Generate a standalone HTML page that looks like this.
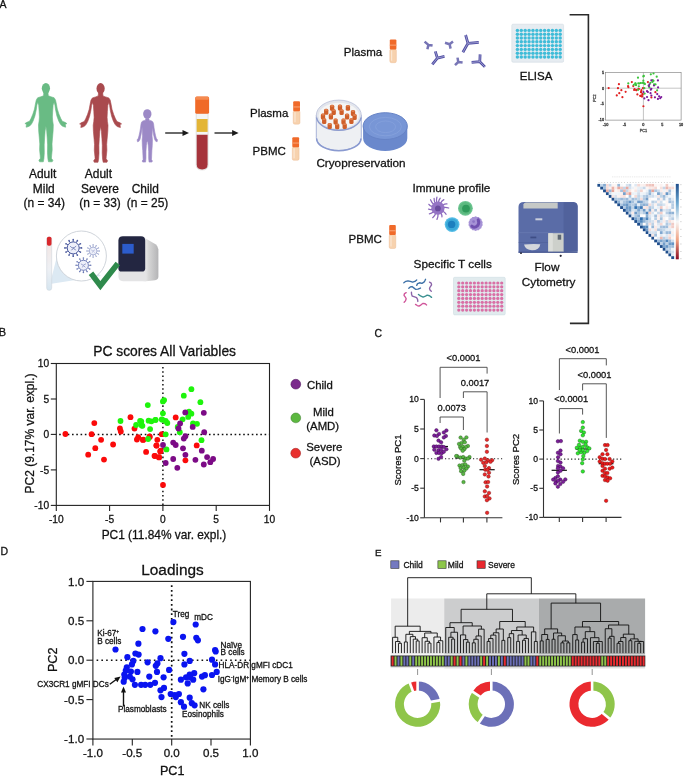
<!DOCTYPE html><html><head><meta charset="utf-8"><style>html,body{margin:0;padding:0;background:#fff;overflow:hidden} svg{display:block;will-change:transform} text{font-family:"Liberation Sans", sans-serif;stroke:currentColor;stroke-width:0.28px;paint-order:stroke}</style></head><body>
<svg width="685" height="777" viewBox="0 0 685 777">
<rect width="685" height="777" fill="#fff"/>
<text x="-0.4" y="7.6" font-size="10.5" text-anchor="start" fill="#111" color="#111" >A</text>
<path d="M48.00,92.95 L48.30,95.74 L50.90,96.73 L54.10,97.73 L55.50,99.92 L56.40,104.09 L57.30,109.07 L58.90,114.05 L60.80,118.52 L62.30,121.31 L65.00,122.30 L66.90,123.60 L65.30,124.19 L65.70,127.18 L63.90,126.78 L62.10,125.98 L60.30,124.00 L58.70,121.01 L56.90,116.03 L55.60,110.06 L54.90,105.09 L54.10,102.30 L53.10,105.09 L52.70,111.06 L52.40,117.03 L52.70,121.01 L53.30,124.99 L53.10,130.96 L52.40,138.92 L52.00,143.90 L52.20,149.87 L51.60,155.84 L51.40,158.32 L52.90,160.31 L52.20,161.81 L48.50,161.81 L47.90,158.82 L47.50,152.85 L47.60,144.89 L47.20,137.93 L46.70,130.96 L45.90,126.18 L45.90,126.18 L45.10,130.96 L44.60,137.93 L44.20,144.89 L44.30,152.85 L43.90,158.82 L43.30,161.81 L39.60,161.81 L38.90,160.31 L40.40,158.32 L40.20,155.84 L39.60,149.87 L39.80,143.90 L39.40,138.92 L38.70,130.96 L38.50,124.99 L39.10,121.01 L39.40,117.03 L39.10,111.06 L38.70,105.09 L37.70,102.30 L36.90,105.09 L36.20,110.06 L34.90,116.03 L33.10,121.01 L31.50,124.00 L29.70,125.98 L27.90,126.78 L26.10,127.18 L26.50,124.19 L24.90,123.60 L26.80,122.30 L29.50,121.31 L31.00,118.52 L32.90,114.05 L34.50,109.07 L35.40,104.09 L36.30,99.92 L37.70,97.73 L40.90,96.73 L43.50,95.74 L43.80,92.95Z" fill="#69bb84" stroke="#69bb84" stroke-width="0.6" stroke-linejoin="round"/>
<ellipse cx="45.90" cy="88.37" rx="4.10" ry="5.37" fill="#69bb84"/>
<path d="M102.70,93.10 L103.00,95.90 L105.60,96.90 L108.80,97.90 L110.20,100.10 L111.10,104.30 L112.00,109.30 L113.60,114.30 L115.50,118.80 L117.00,121.60 L119.70,122.60 L121.60,123.90 L120.00,124.50 L120.40,127.50 L118.60,127.10 L116.80,126.30 L115.00,124.30 L113.40,121.30 L111.60,116.30 L110.30,110.30 L109.60,105.30 L108.80,102.50 L107.80,105.30 L107.40,111.30 L107.10,117.30 L107.40,121.30 L108.00,125.30 L107.80,131.30 L107.10,139.30 L106.70,144.30 L106.90,150.30 L106.30,156.30 L106.10,158.80 L107.60,160.80 L106.90,162.30 L103.20,162.30 L102.60,159.30 L102.20,153.30 L102.30,145.30 L101.90,138.30 L101.40,131.30 L100.60,126.50 L100.60,126.50 L99.80,131.30 L99.30,138.30 L98.90,145.30 L99.00,153.30 L98.60,159.30 L98.00,162.30 L94.30,162.30 L93.60,160.80 L95.10,158.80 L94.90,156.30 L94.30,150.30 L94.50,144.30 L94.10,139.30 L93.40,131.30 L93.20,125.30 L93.80,121.30 L94.10,117.30 L93.80,111.30 L93.40,105.30 L92.40,102.50 L91.60,105.30 L90.90,110.30 L89.60,116.30 L87.80,121.30 L86.20,124.30 L84.40,126.30 L82.60,127.10 L80.80,127.50 L81.20,124.50 L79.60,123.90 L81.50,122.60 L84.20,121.60 L85.70,118.80 L87.60,114.30 L89.20,109.30 L90.10,104.30 L91.00,100.10 L92.40,97.90 L95.60,96.90 L98.20,95.90 L98.50,93.10Z" fill="#a94a4e" stroke="#a94a4e" stroke-width="0.6" stroke-linejoin="round"/>
<ellipse cx="100.60" cy="88.50" rx="4.10" ry="5.40" fill="#a94a4e"/>
<path d="M148.85,118.56 L149.05,120.13 L151.67,120.92 L152.93,121.91 L153.61,124.08 L154.09,128.01 L154.77,131.95 L155.64,135.89 L156.32,138.36 L157.49,139.84 L157.10,141.81 L155.74,141.31 L154.58,139.34 L153.61,134.91 L152.83,129.98 L152.44,127.03 L152.25,131.95 L152.05,135.89 L152.44,139.84 L152.25,145.75 L151.86,150.67 L151.67,155.59 L151.47,159.53 L152.44,161.01 L151.86,162.10 L149.05,162.10 L148.66,158.55 L148.66,151.66 L148.27,145.75 L147.79,142.30 L147.30,141.31 L147.30,141.31 L146.81,142.30 L146.33,145.75 L145.94,151.66 L145.94,158.55 L145.55,162.10 L142.74,162.10 L142.16,161.01 L143.13,159.53 L142.94,155.59 L142.74,150.67 L142.35,145.75 L142.16,139.84 L142.55,135.89 L142.35,131.95 L142.16,127.03 L141.77,129.98 L141.00,134.91 L140.03,139.34 L138.86,141.31 L137.50,141.81 L137.12,139.84 L138.28,138.36 L138.96,135.89 L139.83,131.95 L140.51,128.01 L141.00,124.08 L141.67,121.91 L142.94,120.92 L145.55,120.13 L145.75,118.56Z" fill="#9c89c6" stroke="#9c89c6" stroke-width="0.6" stroke-linejoin="round"/>
<ellipse cx="147.30" cy="114.03" rx="4.17" ry="4.83" fill="#9c89c6"/>
<text x="42.6" y="178.2" font-size="11.95" text-anchor="middle" fill="#111" color="#111" >Adult</text>
<text x="43.8" y="192.6" font-size="11.95" text-anchor="middle" fill="#111" color="#111" >Mild</text>
<text x="44.3" y="207.0" font-size="11.95" text-anchor="middle" fill="#111" color="#111" >(n = 34)</text>
<text x="98.4" y="178.2" font-size="11.95" text-anchor="middle" fill="#111" color="#111" >Adult</text>
<text x="100.0" y="192.6" font-size="11.95" text-anchor="middle" fill="#111" color="#111" >Severe</text>
<text x="100.1" y="207.0" font-size="11.95" text-anchor="middle" fill="#111" color="#111" >(n = 33)</text>
<text x="145.3" y="192.6" font-size="11.95" text-anchor="middle" fill="#111" color="#111" >Child</text>
<text x="147.6" y="207.0" font-size="11.95" text-anchor="middle" fill="#111" color="#111" >(n = 25)</text>
<line x1="165.2" y1="133" x2="184.0" y2="133" stroke="#1a1a1a" stroke-width="1.3"/>
<path d="M182.5,129.9 L189.0,133 L182.5,136.1Z" fill="#1a1a1a"/>
<line x1="214.5" y1="133" x2="233.6" y2="133" stroke="#1a1a1a" stroke-width="1.3"/>
<path d="M232.1,129.9 L238.6,133 L232.1,136.1Z" fill="#1a1a1a"/>
<path d="M196.2,113.5 L208.1,113.5 L208.1,165 Q208.1,170 202.15,170 Q196.2,170 196.2,165Z" fill="#f4f4f4" stroke="#d0d0d0" stroke-width="0.6"/>
<rect x="196.7" y="119.0" width="10.9" height="12.9" fill="#e3b536"/>
<path d="M196.7,134.7 L207.6,134.7 L207.6,164.2 Q207.6,169.4 202.15,169.4 Q196.7,169.4 196.7,164.2Z" fill="#a6333b"/>
<rect x="195.2" y="96.4" width="13.9" height="17.4" rx="1.6" fill="#f06a28"/>
<rect x="195.6" y="96.8" width="13.1" height="3" rx="1" fill="#f58a50"/>
<text x="250.0" y="117.4" font-size="11.5" text-anchor="start" fill="#111" color="#111" >Plasma</text>
<rect x="293.2" y="110.7" width="6.8" height="13.5" rx="1.6" fill="#f7d2ae" stroke="#eab58c" stroke-width="0.4"/>
<rect x="293.2" y="101.2" width="6.8" height="10" rx="1" fill="#f06a2a"/>
<rect x="293.2" y="106.4" width="6.8" height="1.1" fill="#f8a070"/>
<rect x="294.4" y="112.2" width="1.2" height="10.0" fill="#fbe6d2"/>
<text x="252.6" y="154.8" font-size="11.5" text-anchor="start" fill="#111" color="#111" >PBMC</text>
<rect x="292.3" y="146.8" width="6.8" height="13.5" rx="1.6" fill="#f7d2ae" stroke="#eab58c" stroke-width="0.4"/>
<rect x="292.3" y="137.3" width="6.8" height="10" rx="1" fill="#f06a2a"/>
<rect x="292.3" y="142.5" width="6.8" height="1.1" fill="#f8a070"/>
<rect x="293.5" y="148.3" width="1.2" height="10.0" fill="#fbe6d2"/>
<path d="M316.3,115.3 L316.3,137.5 A22.5,12.9 0 0 0 361.3,137.5 L361.3,115.3Z" fill="#eef0f3" stroke="#8797cc" stroke-width="0.7"/>
<path d="M316.6,138.5 A22.2,12.2 0 0 0 361,138.5" fill="none" stroke="#8a9ad0" stroke-width="1.6"/>
<ellipse cx="338.8" cy="115.3" rx="22.5" ry="15.2" fill="#e2e5ec" stroke="#b0b8d4" stroke-width="0.7"/>
<ellipse cx="338.8" cy="115.6" rx="20.2" ry="12.8" fill="#f5f5f5"/>
<path d="M316.5,117.5 A22.4,14 0 0 0 361.1,117.5" fill="none" stroke="#8e9dcf" stroke-width="1.5"/>
<rect x="329.95" y="104.80" width="4.3" height="5.9" rx="1.5" fill="#cf5f2a"/>
<rect x="330.50" y="105.10" width="3.2" height="1.6" rx="0.8" fill="#e08050"/>
<rect x="337.85" y="104.60" width="4.3" height="5.9" rx="1.5" fill="#cf5f2a"/>
<rect x="338.40" y="104.90" width="3.2" height="1.6" rx="0.8" fill="#e08050"/>
<rect x="345.75" y="104.90" width="4.3" height="5.9" rx="1.5" fill="#cf5f2a"/>
<rect x="346.30" y="105.20" width="3.2" height="1.6" rx="0.8" fill="#e08050"/>
<rect x="324.05" y="108.80" width="4.3" height="5.9" rx="1.5" fill="#cf5f2a"/>
<rect x="324.60" y="109.10" width="3.2" height="1.6" rx="0.8" fill="#e08050"/>
<rect x="331.55" y="109.20" width="4.3" height="5.9" rx="1.5" fill="#cf5f2a"/>
<rect x="332.10" y="109.50" width="3.2" height="1.6" rx="0.8" fill="#e08050"/>
<rect x="339.45" y="109.20" width="4.3" height="5.9" rx="1.5" fill="#cf5f2a"/>
<rect x="340.00" y="109.50" width="3.2" height="1.6" rx="0.8" fill="#e08050"/>
<rect x="350.85" y="110.00" width="4.3" height="5.9" rx="1.5" fill="#cf5f2a"/>
<rect x="351.40" y="110.30" width="3.2" height="1.6" rx="0.8" fill="#e08050"/>
<rect x="320.85" y="113.50" width="4.3" height="5.9" rx="1.5" fill="#cf5f2a"/>
<rect x="321.40" y="113.80" width="3.2" height="1.6" rx="0.8" fill="#e08050"/>
<rect x="328.75" y="113.60" width="4.3" height="5.9" rx="1.5" fill="#cf5f2a"/>
<rect x="329.30" y="113.90" width="3.2" height="1.6" rx="0.8" fill="#e08050"/>
<rect x="344.95" y="113.60" width="4.3" height="5.9" rx="1.5" fill="#cf5f2a"/>
<rect x="345.50" y="113.90" width="3.2" height="1.6" rx="0.8" fill="#e08050"/>
<rect x="352.45" y="114.00" width="4.3" height="5.9" rx="1.5" fill="#cf5f2a"/>
<rect x="353.00" y="114.30" width="3.2" height="1.6" rx="0.8" fill="#e08050"/>
<rect x="322.05" y="118.20" width="4.3" height="5.9" rx="1.5" fill="#cf5f2a"/>
<rect x="322.60" y="118.50" width="3.2" height="1.6" rx="0.8" fill="#e08050"/>
<rect x="333.45" y="118.50" width="4.3" height="5.9" rx="1.5" fill="#cf5f2a"/>
<rect x="334.00" y="118.80" width="3.2" height="1.6" rx="0.8" fill="#e08050"/>
<rect x="341.35" y="118.50" width="4.3" height="5.9" rx="1.5" fill="#cf5f2a"/>
<rect x="341.90" y="118.80" width="3.2" height="1.6" rx="0.8" fill="#e08050"/>
<rect x="349.25" y="118.20" width="4.3" height="5.9" rx="1.5" fill="#cf5f2a"/>
<rect x="349.80" y="118.50" width="3.2" height="1.6" rx="0.8" fill="#e08050"/>
<rect x="327.55" y="123.00" width="4.3" height="5.9" rx="1.5" fill="#cf5f2a"/>
<rect x="328.10" y="123.30" width="3.2" height="1.6" rx="0.8" fill="#e08050"/>
<rect x="335.05" y="123.40" width="4.3" height="5.9" rx="1.5" fill="#cf5f2a"/>
<rect x="335.60" y="123.70" width="3.2" height="1.6" rx="0.8" fill="#e08050"/>
<rect x="342.55" y="123.20" width="4.3" height="5.9" rx="1.5" fill="#cf5f2a"/>
<rect x="343.10" y="123.50" width="3.2" height="1.6" rx="0.8" fill="#e08050"/>
<path d="M363.1,126.1 L363.1,138.3 A22.1,12.7 0 0 0 407.3,138.3 L407.3,126.1Z" fill="#6a88cc"/>
<ellipse cx="385.2" cy="126.1" rx="22.1" ry="13.4" fill="#7896d6" stroke="#6683c6" stroke-width="1.0"/>
<ellipse cx="385.4" cy="126.6" rx="16" ry="9.2" fill="none" stroke="#86a2dc" stroke-width="0.8"/>
<ellipse cx="385.6" cy="126.8" rx="10" ry="5.8" fill="none" stroke="#86a2dc" stroke-width="0.7"/>
<text x="316.4" y="167.1" font-size="11.72" text-anchor="start" fill="#111" color="#111" >Cryopreservation</text>
<text x="343.8" y="56.1" font-size="11.5" text-anchor="start" fill="#111" color="#111" >Plasma</text>
<rect x="389.8" y="48.9" width="6.6" height="13.8" rx="1.6" fill="#f7d2ae" stroke="#eab58c" stroke-width="0.4"/>
<rect x="389.8" y="39.4" width="6.6" height="10" rx="1" fill="#f06a2a"/>
<rect x="389.8" y="44.6" width="6.6" height="1.1" fill="#f8a070"/>
<rect x="391.0" y="50.4" width="1.2" height="10.3" fill="#fbe6d2"/>
<path d="M468.00,43.30 L462.90,52.20 M468.00,43.30 L465.60,35.00 M468.00,43.30 L478.80,42.40" stroke="#4f4da3" stroke-width="2.75" stroke-linecap="butt" fill="none"/>
<path d="M468.00,43.30 L462.90,52.20 M468.00,43.30 L465.60,35.00 M468.00,43.30 L478.80,42.40" stroke="#d8d8ee" stroke-width="0.55" fill="none"/>
<path d="M437.40,58.10 L432.30,64.40 M437.40,58.10 L435.30,51.30 M437.40,58.10 L444.50,56.40" stroke="#4f4da3" stroke-width="2.75" stroke-linecap="butt" fill="none"/>
<path d="M437.40,58.10 L432.30,64.40 M437.40,58.10 L435.30,51.30 M437.40,58.10 L444.50,56.40" stroke="#d8d8ee" stroke-width="0.55" fill="none"/>
<path d="M479.80,61.70 L484.90,66.90 M479.80,61.70 L480.10,54.40 M479.80,61.70 L471.60,62.40" stroke="#4f4da3" stroke-width="2.75" stroke-linecap="butt" fill="none"/>
<path d="M479.80,61.70 L484.90,66.90 M479.80,61.70 L480.10,54.40 M479.80,61.70 L471.60,62.40" stroke="#d8d8ee" stroke-width="0.55" fill="none"/>
<path d="M428.40,44.90 L427.40,49.20 M428.40,44.90 L424.60,41.60 M428.40,44.90 L432.60,45.60" stroke="#7573b4" stroke-width="2.5" stroke-linecap="butt" fill="none"/>
<path d="M449.60,44.20 L450.60,48.60 M449.60,44.20 L445.00,42.80 M449.60,44.20 L453.00,41.60" stroke="#7876b6" stroke-width="2.5" stroke-linecap="butt" fill="none"/>
<path d="M458.30,62.00 L455.00,65.20 M458.30,62.00 L457.50,57.60 M458.30,62.00 L462.60,62.60" stroke="#7876b6" stroke-width="2.5" stroke-linecap="butt" fill="none"/>
<rect x="511.8" y="24.2" width="51.8" height="38.0" rx="1.2" fill="#e6ecf1" stroke="#d2dbe3" stroke-width="0.6"/>
<circle cx="517.40" cy="30.40" r="1.72" fill="#3fbcd8"/>
<circle cx="521.29" cy="30.40" r="1.72" fill="#3fbcd8"/>
<circle cx="525.18" cy="30.40" r="1.72" fill="#3fbcd8"/>
<circle cx="529.07" cy="30.40" r="1.72" fill="#3fbcd8"/>
<circle cx="532.96" cy="30.40" r="1.72" fill="#3fbcd8"/>
<circle cx="536.85" cy="30.40" r="1.72" fill="#3fbcd8"/>
<circle cx="540.74" cy="30.40" r="1.72" fill="#3fbcd8"/>
<circle cx="544.63" cy="30.40" r="1.72" fill="#3fbcd8"/>
<circle cx="548.52" cy="30.40" r="1.72" fill="#3fbcd8"/>
<circle cx="552.41" cy="30.40" r="1.72" fill="#3fbcd8"/>
<circle cx="556.30" cy="30.40" r="1.72" fill="#3fbcd8"/>
<circle cx="560.19" cy="30.40" r="1.72" fill="#3fbcd8"/>
<circle cx="517.40" cy="34.20" r="1.72" fill="#3fbcd8"/>
<circle cx="521.29" cy="34.20" r="1.72" fill="#3fbcd8"/>
<circle cx="525.18" cy="34.20" r="1.72" fill="#3fbcd8"/>
<circle cx="529.07" cy="34.20" r="1.72" fill="#3fbcd8"/>
<circle cx="532.96" cy="34.20" r="1.72" fill="#3fbcd8"/>
<circle cx="536.85" cy="34.20" r="1.72" fill="#3fbcd8"/>
<circle cx="540.74" cy="34.20" r="1.72" fill="#3fbcd8"/>
<circle cx="544.63" cy="34.20" r="1.72" fill="#3fbcd8"/>
<circle cx="548.52" cy="34.20" r="1.72" fill="#3fbcd8"/>
<circle cx="552.41" cy="34.20" r="1.72" fill="#3fbcd8"/>
<circle cx="556.30" cy="34.20" r="1.72" fill="#3fbcd8"/>
<circle cx="560.19" cy="34.20" r="1.72" fill="#3fbcd8"/>
<circle cx="517.40" cy="38.00" r="1.72" fill="#3fbcd8"/>
<circle cx="521.29" cy="38.00" r="1.72" fill="#3fbcd8"/>
<circle cx="525.18" cy="38.00" r="1.72" fill="#3fbcd8"/>
<circle cx="529.07" cy="38.00" r="1.72" fill="#3fbcd8"/>
<circle cx="532.96" cy="38.00" r="1.72" fill="#3fbcd8"/>
<circle cx="536.85" cy="38.00" r="1.72" fill="#3fbcd8"/>
<circle cx="540.74" cy="38.00" r="1.72" fill="#3fbcd8"/>
<circle cx="544.63" cy="38.00" r="1.72" fill="#3fbcd8"/>
<circle cx="548.52" cy="38.00" r="1.72" fill="#3fbcd8"/>
<circle cx="552.41" cy="38.00" r="1.72" fill="#3fbcd8"/>
<circle cx="556.30" cy="38.00" r="1.72" fill="#3fbcd8"/>
<circle cx="560.19" cy="38.00" r="1.72" fill="#3fbcd8"/>
<circle cx="517.40" cy="41.80" r="1.72" fill="#3fbcd8"/>
<circle cx="521.29" cy="41.80" r="1.72" fill="#3fbcd8"/>
<circle cx="525.18" cy="41.80" r="1.72" fill="#3fbcd8"/>
<circle cx="529.07" cy="41.80" r="1.72" fill="#3fbcd8"/>
<circle cx="532.96" cy="41.80" r="1.72" fill="#3fbcd8"/>
<circle cx="536.85" cy="41.80" r="1.72" fill="#3fbcd8"/>
<circle cx="540.74" cy="41.80" r="1.72" fill="#3fbcd8"/>
<circle cx="544.63" cy="41.80" r="1.72" fill="#3fbcd8"/>
<circle cx="548.52" cy="41.80" r="1.72" fill="#3fbcd8"/>
<circle cx="552.41" cy="41.80" r="1.72" fill="#3fbcd8"/>
<circle cx="556.30" cy="41.80" r="1.72" fill="#3fbcd8"/>
<circle cx="560.19" cy="41.80" r="1.72" fill="#3fbcd8"/>
<circle cx="517.40" cy="45.60" r="1.72" fill="#3fbcd8"/>
<circle cx="521.29" cy="45.60" r="1.72" fill="#3fbcd8"/>
<circle cx="525.18" cy="45.60" r="1.72" fill="#3fbcd8"/>
<circle cx="529.07" cy="45.60" r="1.72" fill="#3fbcd8"/>
<circle cx="532.96" cy="45.60" r="1.72" fill="#3fbcd8"/>
<circle cx="536.85" cy="45.60" r="1.72" fill="#3fbcd8"/>
<circle cx="540.74" cy="45.60" r="1.72" fill="#3fbcd8"/>
<circle cx="544.63" cy="45.60" r="1.72" fill="#3fbcd8"/>
<circle cx="548.52" cy="45.60" r="1.72" fill="#3fbcd8"/>
<circle cx="552.41" cy="45.60" r="1.72" fill="#3fbcd8"/>
<circle cx="556.30" cy="45.60" r="1.72" fill="#3fbcd8"/>
<circle cx="560.19" cy="45.60" r="1.72" fill="#3fbcd8"/>
<circle cx="517.40" cy="49.40" r="1.72" fill="#3fbcd8"/>
<circle cx="521.29" cy="49.40" r="1.72" fill="#3fbcd8"/>
<circle cx="525.18" cy="49.40" r="1.72" fill="#3fbcd8"/>
<circle cx="529.07" cy="49.40" r="1.72" fill="#3fbcd8"/>
<circle cx="532.96" cy="49.40" r="1.72" fill="#3fbcd8"/>
<circle cx="536.85" cy="49.40" r="1.72" fill="#3fbcd8"/>
<circle cx="540.74" cy="49.40" r="1.72" fill="#3fbcd8"/>
<circle cx="544.63" cy="49.40" r="1.72" fill="#3fbcd8"/>
<circle cx="548.52" cy="49.40" r="1.72" fill="#3fbcd8"/>
<circle cx="552.41" cy="49.40" r="1.72" fill="#3fbcd8"/>
<circle cx="556.30" cy="49.40" r="1.72" fill="#3fbcd8"/>
<circle cx="560.19" cy="49.40" r="1.72" fill="#3fbcd8"/>
<circle cx="517.40" cy="53.20" r="1.72" fill="#3fbcd8"/>
<circle cx="521.29" cy="53.20" r="1.72" fill="#3fbcd8"/>
<circle cx="525.18" cy="53.20" r="1.72" fill="#3fbcd8"/>
<circle cx="529.07" cy="53.20" r="1.72" fill="#3fbcd8"/>
<circle cx="532.96" cy="53.20" r="1.72" fill="#3fbcd8"/>
<circle cx="536.85" cy="53.20" r="1.72" fill="#3fbcd8"/>
<circle cx="540.74" cy="53.20" r="1.72" fill="#3fbcd8"/>
<circle cx="544.63" cy="53.20" r="1.72" fill="#3fbcd8"/>
<circle cx="548.52" cy="53.20" r="1.72" fill="#3fbcd8"/>
<circle cx="552.41" cy="53.20" r="1.72" fill="#3fbcd8"/>
<circle cx="556.30" cy="53.20" r="1.72" fill="#3fbcd8"/>
<circle cx="560.19" cy="53.20" r="1.72" fill="#3fbcd8"/>
<circle cx="517.40" cy="57.00" r="1.72" fill="#3fbcd8"/>
<circle cx="521.29" cy="57.00" r="1.72" fill="#3fbcd8"/>
<circle cx="525.18" cy="57.00" r="1.72" fill="#3fbcd8"/>
<circle cx="529.07" cy="57.00" r="1.72" fill="#3fbcd8"/>
<circle cx="532.96" cy="57.00" r="1.72" fill="#3fbcd8"/>
<circle cx="536.85" cy="57.00" r="1.72" fill="#3fbcd8"/>
<circle cx="540.74" cy="57.00" r="1.72" fill="#3fbcd8"/>
<circle cx="544.63" cy="57.00" r="1.72" fill="#3fbcd8"/>
<circle cx="548.52" cy="57.00" r="1.72" fill="#3fbcd8"/>
<circle cx="552.41" cy="57.00" r="1.72" fill="#3fbcd8"/>
<circle cx="556.30" cy="57.00" r="1.72" fill="#3fbcd8"/>
<circle cx="560.19" cy="57.00" r="1.72" fill="#3fbcd8"/>
<text x="519.8" y="79.6" font-size="11.5" text-anchor="start" fill="#111" color="#111" >ELISA</text>
<text x="412.4" y="191.8" font-size="11.8" text-anchor="start" fill="#111" color="#111" >Immune profile</text>
<path d="M436.76,202.82 Q436.13,199.89 436.90,197.04 M438.47,202.73 Q438.79,199.75 440.17,198.26 M440.48,203.34 Q441.89,200.69 443.85,199.67 M442.56,205.29 Q445.11,203.70 446.95,203.95 M443.35,207.43 Q446.32,207.02 448.70,207.99 M442.66,210.95 Q445.26,212.45 446.06,214.32 M440.81,212.86 Q442.40,215.41 441.98,216.89 M438.09,213.70 Q438.20,216.69 436.95,219.36 M435.84,213.30 Q434.72,216.08 432.68,217.66 M433.69,211.74 Q431.39,213.66 429.36,213.77 M432.52,209.34 Q429.59,209.97 428.54,209.04 M432.61,206.68 Q429.73,205.86 428.87,204.39 M433.81,204.52 Q431.58,202.51 430.53,199.76 M435.32,203.34 Q433.91,200.69 434.08,198.31" stroke="#8a68bc" stroke-width="1.25" stroke-linecap="round" fill="none"/>
<circle cx="437.9" cy="208.2" r="6.6" fill="#9474c4"/>
<circle cx="437.9" cy="208.39999999999998" r="2.9" fill="#6a4c9e"/>
<circle cx="465.4" cy="208.3" r="7.4" fill="#6ec592"/>
<circle cx="465.4" cy="208.3" r="6.2" fill="#5bb97f"/>
<circle cx="466.0" cy="208.6" r="3.9" fill="#2f9a5b"/>
<circle cx="452.1" cy="224.6" r="7.4" fill="#56bde6"/>
<circle cx="452.1" cy="224.6" r="6.2" fill="#3aa8d8"/>
<circle cx="451.6" cy="224.4" r="3.7" fill="#1b7fbf"/>
<polygon points="482.40,223.60 482.72,225.22 481.73,226.55 481.31,228.15 479.84,228.92 478.77,230.18 477.11,230.23 475.60,230.90 474.09,230.23 472.43,230.18 471.36,228.92 469.89,228.15 469.47,226.55 468.48,225.22 468.80,223.60 468.48,221.98 469.47,220.65 469.89,219.05 471.36,218.28 472.43,217.02 474.09,216.97 475.60,216.30 477.11,216.97 478.77,217.02 479.84,218.28 481.31,219.05 481.73,220.65 482.72,221.98" fill="#a692d6"/>
<path d="M471.8,226.2 Q474.5,228.6 477.6,225.6 Q479.6,222.8 478.2,219.8" stroke="#7050b0" stroke-width="3.0" fill="none" stroke-linecap="round"/>
<circle cx="473.6" cy="221.6" r="1.4" fill="#8c74c6"/>
<text x="348.6" y="242.8" font-size="11.5" text-anchor="start" fill="#111" color="#111" >PBMC</text>
<rect x="389.2" y="234.5" width="6.6" height="14.0" rx="1.6" fill="#f7d2ae" stroke="#eab58c" stroke-width="0.4"/>
<rect x="389.2" y="225.0" width="6.6" height="10" rx="1" fill="#f06a2a"/>
<rect x="389.2" y="230.2" width="6.6" height="1.1" fill="#f8a070"/>
<rect x="390.4" y="236.0" width="1.2" height="10.5" fill="#fbe6d2"/>
<text x="413.6" y="268.4" font-size="11.8" text-anchor="start" fill="#111" color="#111" >Specific T cells</text>
<path d="M403.84,282.76 L405.88,281.30 L407.93,280.83 L410.26,281.47 L412.60,282.18 L414.93,281.47 L416.69,279.96" stroke="#3b6fa6" stroke-width="1.35" fill="none" stroke-linecap="round" stroke-linejoin="round"/>
<path d="M416.69,285.39 L417.56,283.64 L419.61,282.76 L421.94,283.34 L423.99,282.18 L424.98,280.54 L425.56,279.26" stroke="#3b6fa6" stroke-width="1.35" fill="none" stroke-linecap="round" stroke-linejoin="round"/>
<path d="M408.80,288.31 L410.26,286.96 L412.01,286.55 L413.77,287.90 L415.52,289.30 L417.85,289.07 L420.48,288.01" stroke="#3b6fa6" stroke-width="1.35" fill="none" stroke-linecap="round" stroke-linejoin="round"/>
<path d="M429.53,282.18 L431.17,283.05 L431.58,284.80 L430.41,286.55 L429.53,288.31 L430.00,290.06 L431.28,291.23" stroke="#8a62a8" stroke-width="1.35" fill="none" stroke-linecap="round" stroke-linejoin="round"/>
<path d="M406.18,292.69 L404.54,293.56 L404.01,295.31 L405.30,297.07 L406.18,298.82 L405.47,300.86 L404.13,302.32" stroke="#d0559a" stroke-width="1.35" fill="none" stroke-linecap="round" stroke-linejoin="round"/>
<path d="M411.43,292.10 L411.55,294.15 L412.31,296.19 L414.64,296.89 L416.57,297.65 L417.56,299.40 L417.85,301.45" stroke="#8a62a8" stroke-width="1.35" fill="none" stroke-linecap="round" stroke-linejoin="round"/>
<path d="M418.44,294.44 L420.48,295.90 L423.11,297.07 L425.45,296.07 L427.20,295.14 L429.53,295.72 L431.58,297.36" stroke="#3a8f90" stroke-width="1.35" fill="none" stroke-linecap="round" stroke-linejoin="round"/>
<path d="M415.52,304.36 L417.27,305.53 L419.02,306.12 L421.07,304.83 L423.11,303.31 L425.15,303.78 L426.61,304.95" stroke="#d0559a" stroke-width="1.35" fill="none" stroke-linecap="round" stroke-linejoin="round"/>
<rect x="453.5" y="277.3" width="51.7" height="37.6" rx="1.2" fill="#e1ebee" stroke="#cfdde2" stroke-width="0.6"/>
<circle cx="458.80" cy="283.00" r="1.62" fill="#d970a6"/>
<circle cx="462.70" cy="283.00" r="1.62" fill="#d970a6"/>
<circle cx="466.60" cy="283.00" r="1.62" fill="#d970a6"/>
<circle cx="470.50" cy="283.00" r="1.62" fill="#d970a6"/>
<circle cx="474.40" cy="283.00" r="1.62" fill="#d970a6"/>
<circle cx="478.30" cy="283.00" r="1.62" fill="#d970a6"/>
<circle cx="482.20" cy="283.00" r="1.62" fill="#d970a6"/>
<circle cx="486.10" cy="283.00" r="1.62" fill="#d970a6"/>
<circle cx="490.00" cy="283.00" r="1.62" fill="#d970a6"/>
<circle cx="493.90" cy="283.00" r="1.62" fill="#d970a6"/>
<circle cx="497.80" cy="283.00" r="1.62" fill="#d970a6"/>
<circle cx="501.70" cy="283.00" r="1.62" fill="#d970a6"/>
<circle cx="458.80" cy="286.87" r="1.62" fill="#d970a6"/>
<circle cx="462.70" cy="286.87" r="1.62" fill="#d970a6"/>
<circle cx="466.60" cy="286.87" r="1.62" fill="#d970a6"/>
<circle cx="470.50" cy="286.87" r="1.62" fill="#d970a6"/>
<circle cx="474.40" cy="286.87" r="1.62" fill="#d970a6"/>
<circle cx="478.30" cy="286.87" r="1.62" fill="#d970a6"/>
<circle cx="482.20" cy="286.87" r="1.62" fill="#d970a6"/>
<circle cx="486.10" cy="286.87" r="1.62" fill="#d970a6"/>
<circle cx="490.00" cy="286.87" r="1.62" fill="#d970a6"/>
<circle cx="493.90" cy="286.87" r="1.62" fill="#d970a6"/>
<circle cx="497.80" cy="286.87" r="1.62" fill="#d970a6"/>
<circle cx="501.70" cy="286.87" r="1.62" fill="#d970a6"/>
<circle cx="458.80" cy="290.74" r="1.62" fill="#d970a6"/>
<circle cx="462.70" cy="290.74" r="1.62" fill="#d970a6"/>
<circle cx="466.60" cy="290.74" r="1.62" fill="#d970a6"/>
<circle cx="470.50" cy="290.74" r="1.62" fill="#d970a6"/>
<circle cx="474.40" cy="290.74" r="1.62" fill="#d970a6"/>
<circle cx="478.30" cy="290.74" r="1.62" fill="#d970a6"/>
<circle cx="482.20" cy="290.74" r="1.62" fill="#d970a6"/>
<circle cx="486.10" cy="290.74" r="1.62" fill="#d970a6"/>
<circle cx="490.00" cy="290.74" r="1.62" fill="#d970a6"/>
<circle cx="493.90" cy="290.74" r="1.62" fill="#d970a6"/>
<circle cx="497.80" cy="290.74" r="1.62" fill="#d970a6"/>
<circle cx="501.70" cy="290.74" r="1.62" fill="#d970a6"/>
<circle cx="458.80" cy="294.61" r="1.62" fill="#d970a6"/>
<circle cx="462.70" cy="294.61" r="1.62" fill="#d970a6"/>
<circle cx="466.60" cy="294.61" r="1.62" fill="#d970a6"/>
<circle cx="470.50" cy="294.61" r="1.62" fill="#d970a6"/>
<circle cx="474.40" cy="294.61" r="1.62" fill="#d970a6"/>
<circle cx="478.30" cy="294.61" r="1.62" fill="#d970a6"/>
<circle cx="482.20" cy="294.61" r="1.62" fill="#d970a6"/>
<circle cx="486.10" cy="294.61" r="1.62" fill="#d970a6"/>
<circle cx="490.00" cy="294.61" r="1.62" fill="#d970a6"/>
<circle cx="493.90" cy="294.61" r="1.62" fill="#d970a6"/>
<circle cx="497.80" cy="294.61" r="1.62" fill="#d970a6"/>
<circle cx="501.70" cy="294.61" r="1.62" fill="#d970a6"/>
<circle cx="458.80" cy="298.48" r="1.62" fill="#d970a6"/>
<circle cx="462.70" cy="298.48" r="1.62" fill="#d970a6"/>
<circle cx="466.60" cy="298.48" r="1.62" fill="#d970a6"/>
<circle cx="470.50" cy="298.48" r="1.62" fill="#d970a6"/>
<circle cx="474.40" cy="298.48" r="1.62" fill="#d970a6"/>
<circle cx="478.30" cy="298.48" r="1.62" fill="#d970a6"/>
<circle cx="482.20" cy="298.48" r="1.62" fill="#d970a6"/>
<circle cx="486.10" cy="298.48" r="1.62" fill="#d970a6"/>
<circle cx="490.00" cy="298.48" r="1.62" fill="#d970a6"/>
<circle cx="493.90" cy="298.48" r="1.62" fill="#d970a6"/>
<circle cx="497.80" cy="298.48" r="1.62" fill="#d970a6"/>
<circle cx="501.70" cy="298.48" r="1.62" fill="#d970a6"/>
<circle cx="458.80" cy="302.35" r="1.62" fill="#d970a6"/>
<circle cx="462.70" cy="302.35" r="1.62" fill="#d970a6"/>
<circle cx="466.60" cy="302.35" r="1.62" fill="#d970a6"/>
<circle cx="470.50" cy="302.35" r="1.62" fill="#d970a6"/>
<circle cx="474.40" cy="302.35" r="1.62" fill="#d970a6"/>
<circle cx="478.30" cy="302.35" r="1.62" fill="#d970a6"/>
<circle cx="482.20" cy="302.35" r="1.62" fill="#d970a6"/>
<circle cx="486.10" cy="302.35" r="1.62" fill="#d970a6"/>
<circle cx="490.00" cy="302.35" r="1.62" fill="#d970a6"/>
<circle cx="493.90" cy="302.35" r="1.62" fill="#d970a6"/>
<circle cx="497.80" cy="302.35" r="1.62" fill="#d970a6"/>
<circle cx="501.70" cy="302.35" r="1.62" fill="#d970a6"/>
<circle cx="458.80" cy="306.22" r="1.62" fill="#d970a6"/>
<circle cx="462.70" cy="306.22" r="1.62" fill="#d970a6"/>
<circle cx="466.60" cy="306.22" r="1.62" fill="#d970a6"/>
<circle cx="470.50" cy="306.22" r="1.62" fill="#d970a6"/>
<circle cx="474.40" cy="306.22" r="1.62" fill="#d970a6"/>
<circle cx="478.30" cy="306.22" r="1.62" fill="#d970a6"/>
<circle cx="482.20" cy="306.22" r="1.62" fill="#d970a6"/>
<circle cx="486.10" cy="306.22" r="1.62" fill="#d970a6"/>
<circle cx="490.00" cy="306.22" r="1.62" fill="#d970a6"/>
<circle cx="493.90" cy="306.22" r="1.62" fill="#d970a6"/>
<circle cx="497.80" cy="306.22" r="1.62" fill="#d970a6"/>
<circle cx="501.70" cy="306.22" r="1.62" fill="#d970a6"/>
<circle cx="458.80" cy="310.09" r="1.62" fill="#d970a6"/>
<circle cx="462.70" cy="310.09" r="1.62" fill="#d970a6"/>
<circle cx="466.60" cy="310.09" r="1.62" fill="#d970a6"/>
<circle cx="470.50" cy="310.09" r="1.62" fill="#d970a6"/>
<circle cx="474.40" cy="310.09" r="1.62" fill="#d970a6"/>
<circle cx="478.30" cy="310.09" r="1.62" fill="#d970a6"/>
<circle cx="482.20" cy="310.09" r="1.62" fill="#d970a6"/>
<circle cx="486.10" cy="310.09" r="1.62" fill="#d970a6"/>
<circle cx="490.00" cy="310.09" r="1.62" fill="#d970a6"/>
<circle cx="493.90" cy="310.09" r="1.62" fill="#d970a6"/>
<circle cx="497.80" cy="310.09" r="1.62" fill="#d970a6"/>
<circle cx="501.70" cy="310.09" r="1.62" fill="#d970a6"/>
<path d="M518.5,207 Q518.5,202 524,202 L573.5,202 Q577.6,202.4 577.6,206.5 L577.6,251.5 L518.5,252.6Z" fill="#5a6ca7"/>
<path d="M563.6,202.3 L573.5,202.3 Q577.6,202.6 577.6,206.5 L577.6,251.5 L563.6,252Z" fill="#51629c"/>
<path d="M523.4,208.4 L523.4,204.5 Q524,202.5 526,202.5 L557.7,202.5 L557.7,208.4Z" fill="#c6c9c7"/>
<rect x="535.4" y="218.3" width="6.9" height="2.0" fill="#c9cedc"/>
<line x1="518.6" y1="232.7" x2="563.6" y2="232.7" stroke="#6b7cb3" stroke-width="0.7"/>
<line x1="518.6" y1="242.5" x2="548" y2="242.5" stroke="#4e5f98" stroke-width="0.6"/>
<rect x="530.4" y="236.6" width="5.9" height="1.7" fill="#3e4d85"/>
<path d="M524,244.6 Q532,243.4 540.3,244.2 Q539.5,250.2 532,250.3 Q525.5,250.2 524,244.6Z" fill="#d4d7dc"/>
<rect x="548.3" y="233.2" width="15.3" height="19.4" fill="#cdd0cb"/>
<rect x="548.3" y="233.2" width="4.5" height="19.4" fill="#dcdeda"/>
<rect x="557.7" y="234.7" width="3.5" height="5" fill="#5e6873"/>
<rect x="518.5" y="251.6" width="59.1" height="1.3" fill="#485892"/>
<circle cx="521" cy="253.2" r="0.9" fill="#223"/><circle cx="560.7" cy="255.8" r="1.1" fill="#223"/>
<text x="547.0" y="271.2" font-size="11.8" text-anchor="middle" fill="#111" color="#111" >Flow</text>
<text x="548.6" y="286.1" font-size="11.8" text-anchor="middle" fill="#111" color="#111" >Cytometry</text>
<path d="M569.6,14.8 L588.4,14.8 L588.4,323.4 L569.9,323.4" fill="none" stroke="#2a2a2a" stroke-width="1.6"/>
<path d="M50,284 L60,244 L101,276 Z" fill="#dce9f3"/>
<defs><linearGradient id="swg" x1="0" y1="0" x2="0" y2="1"><stop offset="0" stop-color="#f3e4e0"/><stop offset="0.6" stop-color="#eef0f4"/><stop offset="1" stop-color="#d6e6f0"/></linearGradient></defs>
<rect x="46.7" y="237" width="5" height="53.3" rx="2.2" fill="url(#swg)" stroke="#c8d0d8" stroke-width="0.5"/>
<rect x="46.9" y="236.8" width="4.6" height="9.0" rx="1.8" fill="#d8282c"/>
<circle cx="81.4" cy="256" r="25" fill="#ffffff" stroke="#c9cfd6" stroke-width="0.9"/>
<path d="M79.20,247.90 L81.20,247.90 M78.40,250.90 L80.13,251.90 M76.20,253.10 L77.20,254.83 M73.20,253.90 L73.20,255.90 M70.20,253.10 L69.20,254.83 M68.00,250.90 L66.27,251.90 M67.20,247.90 L65.20,247.90 M68.00,244.90 L66.27,243.90 M70.20,242.70 L69.20,240.97 M73.20,241.90 L73.20,239.90 M76.20,242.70 L77.20,240.97 M78.40,244.90 L80.13,243.90" stroke="#4b5a9e" stroke-width="1.0" fill="none"/>
<circle cx="81.50" cy="247.90" r="0.85" fill="#4b5a9e"/>
<circle cx="80.39" cy="252.05" r="0.85" fill="#4b5a9e"/>
<circle cx="77.35" cy="255.09" r="0.85" fill="#4b5a9e"/>
<circle cx="73.20" cy="256.20" r="0.85" fill="#4b5a9e"/>
<circle cx="69.05" cy="255.09" r="0.85" fill="#4b5a9e"/>
<circle cx="66.01" cy="252.05" r="0.85" fill="#4b5a9e"/>
<circle cx="64.90" cy="247.90" r="0.85" fill="#4b5a9e"/>
<circle cx="66.01" cy="243.75" r="0.85" fill="#4b5a9e"/>
<circle cx="69.05" cy="240.71" r="0.85" fill="#4b5a9e"/>
<circle cx="73.20" cy="239.60" r="0.85" fill="#4b5a9e"/>
<circle cx="77.35" cy="240.71" r="0.85" fill="#4b5a9e"/>
<circle cx="80.39" cy="243.75" r="0.85" fill="#4b5a9e"/>
<circle cx="73.2" cy="247.9" r="6.0" fill="#eef0fa" stroke="#4b5a9e" stroke-width="1.0"/>
<path d="M70.2,246.1 q2.4000000000000004,3.5999999999999996 6.0,0 M71.4,250.3 q2.4000000000000004,-3.5999999999999996 4.199999999999999,0" stroke="#4b5a9e" stroke-width="0.7" fill="none"/>
<path d="M88.40,265.30 L90.40,265.30 M87.73,267.80 L89.46,268.80 M85.90,269.63 L86.90,271.36 M83.40,270.30 L83.40,272.30 M80.90,269.63 L79.90,271.36 M79.07,267.80 L77.34,268.80 M78.40,265.30 L76.40,265.30 M79.07,262.80 L77.34,261.80 M80.90,260.97 L79.90,259.24 M83.40,260.30 L83.40,258.30 M85.90,260.97 L86.90,259.24 M87.73,262.80 L89.46,261.80" stroke="#6a78b4" stroke-width="0.9" fill="none"/>
<circle cx="90.70" cy="265.30" r="0.77" fill="#6a78b4"/>
<circle cx="89.72" cy="268.95" r="0.77" fill="#6a78b4"/>
<circle cx="87.05" cy="271.62" r="0.77" fill="#6a78b4"/>
<circle cx="83.40" cy="272.60" r="0.77" fill="#6a78b4"/>
<circle cx="79.75" cy="271.62" r="0.77" fill="#6a78b4"/>
<circle cx="77.08" cy="268.95" r="0.77" fill="#6a78b4"/>
<circle cx="76.10" cy="265.30" r="0.77" fill="#6a78b4"/>
<circle cx="77.08" cy="261.65" r="0.77" fill="#6a78b4"/>
<circle cx="79.75" cy="258.98" r="0.77" fill="#6a78b4"/>
<circle cx="83.40" cy="258.00" r="0.77" fill="#6a78b4"/>
<circle cx="87.05" cy="258.98" r="0.77" fill="#6a78b4"/>
<circle cx="89.72" cy="261.65" r="0.77" fill="#6a78b4"/>
<circle cx="83.4" cy="265.3" r="5.0" fill="#eef0fa" stroke="#6a78b4" stroke-width="0.9"/>
<path d="M80.9,263.8 q2.0,3.0 5.0,0 M81.9,267.3 q2.0,-3.0 3.5,0" stroke="#6a78b4" stroke-width="0.63" fill="none"/>
<path d="M97.00,251.00 L99.00,251.00 M96.48,252.95 L98.21,253.95 M95.05,254.38 L96.05,256.11 M93.10,254.90 L93.10,256.90 M91.15,254.38 L90.15,256.11 M89.72,252.95 L87.99,253.95 M89.20,251.00 L87.20,251.00 M89.72,249.05 L87.99,248.05 M91.15,247.62 L90.15,245.89 M93.10,247.10 L93.10,245.10 M95.05,247.62 L96.05,245.89 M96.48,249.05 L98.21,248.05" stroke="#98a2cc" stroke-width="0.8" fill="none"/>
<circle cx="99.30" cy="251.00" r="0.68" fill="#98a2cc"/>
<circle cx="98.47" cy="254.10" r="0.68" fill="#98a2cc"/>
<circle cx="96.20" cy="256.37" r="0.68" fill="#98a2cc"/>
<circle cx="93.10" cy="257.20" r="0.68" fill="#98a2cc"/>
<circle cx="90.00" cy="256.37" r="0.68" fill="#98a2cc"/>
<circle cx="87.73" cy="254.10" r="0.68" fill="#98a2cc"/>
<circle cx="86.90" cy="251.00" r="0.68" fill="#98a2cc"/>
<circle cx="87.73" cy="247.90" r="0.68" fill="#98a2cc"/>
<circle cx="90.00" cy="245.63" r="0.68" fill="#98a2cc"/>
<circle cx="93.10" cy="244.80" r="0.68" fill="#98a2cc"/>
<circle cx="96.20" cy="245.63" r="0.68" fill="#98a2cc"/>
<circle cx="98.47" cy="247.90" r="0.68" fill="#98a2cc"/>
<circle cx="93.1" cy="251.0" r="3.9" fill="#eef0fa" stroke="#98a2cc" stroke-width="0.8"/>
<path d="M91.14999999999999,249.83 q1.56,2.34 3.9,0 M91.92999999999999,252.56 q1.56,-2.34 2.73,0" stroke="#98a2cc" stroke-width="0.5599999999999999" fill="none"/>
<defs><linearGradient id="pcrg" x1="0" y1="0" x2="1" y2="0"><stop offset="0" stop-color="#f2f2f2"/><stop offset="0.35" stop-color="#d6d6d6"/><stop offset="1" stop-color="#b4b4b6"/></linearGradient></defs>
<path d="M143.5,237.2 L155.5,244.2 Q158.4,246 158.4,249.5 L158.4,276.5 Q158.4,279.6 155,280.2 L146,281.2 L143.5,281.2Z" fill="url(#pcrg)"/>
<path d="M118.4,262 L146,262 L146,281.2 L123,281.2 Q118.4,281.2 118.4,276Z" fill="#e4e4e5"/>
<path d="M118.4,240.5 Q118.4,236.2 123,236.2 L141,236.2 Q145.2,236.2 145.2,240.5 L145.2,268.5 Q145.2,271.6 142,271.6 L121.5,271.6 Q118.4,271.6 118.4,268.5Z" fill="#232641"/>
<rect x="122.3" y="243.9" width="11.4" height="9.7" fill="#2c5ccc"/>
<path d="M91.0,273.2 L100.4,285.6 L117.8,263.6" stroke="#2f8a4c" stroke-width="5.6" fill="none" stroke-linejoin="miter"/>
<rect x="605.5" y="72.4" width="75.6" height="47.7" fill="none" stroke="#777" stroke-width="0.6"/>
<line x1="605.5" y1="88.2" x2="681.1" y2="88.2" stroke="#888" stroke-width="0.5"/>
<line x1="643.4" y1="72.4" x2="643.4" y2="120.1" stroke="#888" stroke-width="0.5"/>
<text x="604.0" y="73.7" font-size="3.8" text-anchor="end" fill="#333" color="#333" >5</text>
<text x="604.0" y="89.5" font-size="3.8" text-anchor="end" fill="#333" color="#333" >0</text>
<text x="604.0" y="105.4" font-size="3.8" text-anchor="end" fill="#333" color="#333" >-5</text>
<text x="604.0" y="121.4" font-size="3.8" text-anchor="end" fill="#333" color="#333" >-10</text>
<text x="605.5" y="125.5" font-size="3.8" text-anchor="middle" fill="#333" color="#333" >-10</text>
<text x="624.4" y="125.5" font-size="3.8" text-anchor="middle" fill="#333" color="#333" >-5</text>
<text x="643.4" y="125.5" font-size="3.8" text-anchor="middle" fill="#333" color="#333" >0</text>
<text x="662.3" y="125.5" font-size="3.8" text-anchor="middle" fill="#333" color="#333" >5</text>
<text x="681.1" y="125.5" font-size="3.8" text-anchor="middle" fill="#333" color="#333" >10</text>
<text x="643.4" y="131.5" font-size="3.8" text-anchor="middle" fill="#444" color="#444" >PC1</text>
<text x="0" y="0" font-size="3.8" fill="#444" color="#444" text-anchor="middle" transform="translate(595.5,98) rotate(-90)">PC2</text>
<rect x="597.40" y="183.90" width="2.89" height="2.83" fill="#1f4e8c"/>
<rect x="600.24" y="183.90" width="2.89" height="2.83" fill="#c2d5e8"/>
<rect x="603.08" y="183.90" width="2.89" height="2.83" fill="#84aad1"/>
<rect x="605.92" y="183.90" width="2.89" height="2.83" fill="#f5dbd7"/>
<rect x="608.76" y="183.90" width="2.89" height="2.83" fill="#cadaeb"/>
<rect x="611.60" y="183.90" width="2.89" height="2.83" fill="#fcf5f3"/>
<rect x="614.44" y="183.90" width="2.89" height="2.83" fill="#fcf5f3"/>
<rect x="617.29" y="183.90" width="2.89" height="2.83" fill="#99b9d9"/>
<rect x="620.13" y="183.90" width="2.89" height="2.83" fill="#f6f9fb"/>
<rect x="622.97" y="183.90" width="2.89" height="2.83" fill="#fefdfd"/>
<rect x="625.81" y="183.90" width="2.89" height="2.83" fill="#d8e4f0"/>
<rect x="628.65" y="183.90" width="2.89" height="2.83" fill="#c2d5e8"/>
<rect x="631.49" y="183.90" width="2.89" height="2.83" fill="#fefdfd"/>
<rect x="634.33" y="183.90" width="2.89" height="2.83" fill="#dfe9f3"/>
<rect x="637.17" y="183.90" width="2.89" height="2.83" fill="#f5d9d5"/>
<rect x="640.01" y="183.90" width="2.89" height="2.83" fill="#fbf1ef"/>
<rect x="642.85" y="183.90" width="2.89" height="2.83" fill="#faeeec"/>
<rect x="645.69" y="183.90" width="2.89" height="2.83" fill="#f1ccc6"/>
<rect x="648.53" y="183.90" width="2.89" height="2.83" fill="#f0c5be"/>
<rect x="651.37" y="183.90" width="2.89" height="2.83" fill="#eec0b9"/>
<rect x="654.21" y="183.90" width="2.89" height="2.83" fill="#fcf5f4"/>
<rect x="657.06" y="183.90" width="2.89" height="2.83" fill="#fdf8f7"/>
<rect x="659.90" y="183.90" width="2.89" height="2.83" fill="#fbf2f1"/>
<rect x="662.74" y="183.90" width="2.89" height="2.83" fill="#fbfcfd"/>
<rect x="665.58" y="183.90" width="2.89" height="2.83" fill="#f1ccc5"/>
<rect x="668.42" y="183.90" width="2.89" height="2.83" fill="#fefbfb"/>
<rect x="671.26" y="183.90" width="2.89" height="2.83" fill="#f2f6fa"/>
<rect x="600.24" y="186.68" width="2.89" height="2.83" fill="#1f4e8c"/>
<rect x="603.08" y="186.68" width="2.89" height="2.83" fill="#9fbddb"/>
<rect x="605.92" y="186.68" width="2.89" height="2.83" fill="#f6deda"/>
<rect x="608.76" y="186.68" width="2.89" height="2.83" fill="#fbefed"/>
<rect x="611.60" y="186.68" width="2.89" height="2.83" fill="#ebb2a8"/>
<rect x="614.44" y="186.68" width="2.89" height="2.83" fill="#faebe9"/>
<rect x="617.29" y="186.68" width="2.89" height="2.83" fill="#e9aba1"/>
<rect x="620.13" y="186.68" width="2.89" height="2.83" fill="#f1c8c2"/>
<rect x="622.97" y="186.68" width="2.89" height="2.83" fill="#c4d6e9"/>
<rect x="625.81" y="186.68" width="2.89" height="2.83" fill="#e9aaa0"/>
<rect x="628.65" y="186.68" width="2.89" height="2.83" fill="#d4e1ef"/>
<rect x="631.49" y="186.68" width="2.89" height="2.83" fill="#edf2f8"/>
<rect x="634.33" y="186.68" width="2.89" height="2.83" fill="#fbf3f1"/>
<rect x="637.17" y="186.68" width="2.89" height="2.83" fill="#e6eef5"/>
<rect x="640.01" y="186.68" width="2.89" height="2.83" fill="#e2ebf4"/>
<rect x="642.85" y="186.68" width="2.89" height="2.83" fill="#c7d8ea"/>
<rect x="645.69" y="186.68" width="2.89" height="2.83" fill="#fcf6f5"/>
<rect x="648.53" y="186.68" width="2.89" height="2.83" fill="#f9e8e5"/>
<rect x="651.37" y="186.68" width="2.89" height="2.83" fill="#f9e7e5"/>
<rect x="654.21" y="186.68" width="2.89" height="2.83" fill="#f5d9d4"/>
<rect x="657.06" y="186.68" width="2.89" height="2.83" fill="#fefdfd"/>
<rect x="659.90" y="186.68" width="2.89" height="2.83" fill="#f7e1dd"/>
<rect x="662.74" y="186.68" width="2.89" height="2.83" fill="#c6d7e9"/>
<rect x="665.58" y="186.68" width="2.89" height="2.83" fill="#ecb7af"/>
<rect x="668.42" y="186.68" width="2.89" height="2.83" fill="#f4d5d0"/>
<rect x="671.26" y="186.68" width="2.89" height="2.83" fill="#f5dad6"/>
<rect x="603.08" y="189.46" width="2.89" height="2.83" fill="#1f4e8c"/>
<rect x="605.92" y="189.46" width="2.89" height="2.83" fill="#eaafa5"/>
<rect x="608.76" y="189.46" width="2.89" height="2.83" fill="#99b9d9"/>
<rect x="611.60" y="189.46" width="2.89" height="2.83" fill="#e7a398"/>
<rect x="614.44" y="189.46" width="2.89" height="2.83" fill="#fcf4f2"/>
<rect x="617.29" y="189.46" width="2.89" height="2.83" fill="#f9eae8"/>
<rect x="620.13" y="189.46" width="2.89" height="2.83" fill="#a6c2de"/>
<rect x="622.97" y="189.46" width="2.89" height="2.83" fill="#ebb3aa"/>
<rect x="625.81" y="189.46" width="2.89" height="2.83" fill="#c5d7e9"/>
<rect x="628.65" y="189.46" width="2.89" height="2.83" fill="#f7e3df"/>
<rect x="631.49" y="189.46" width="2.89" height="2.83" fill="#fdf9f8"/>
<rect x="634.33" y="189.46" width="2.89" height="2.83" fill="#f8e5e2"/>
<rect x="637.17" y="189.46" width="2.89" height="2.83" fill="#dce7f2"/>
<rect x="640.01" y="189.46" width="2.89" height="2.83" fill="#f3d3ce"/>
<rect x="642.85" y="189.46" width="2.89" height="2.83" fill="#fefbfb"/>
<rect x="645.69" y="189.46" width="2.89" height="2.83" fill="#ecf2f7"/>
<rect x="648.53" y="189.46" width="2.89" height="2.83" fill="#9cbbda"/>
<rect x="651.37" y="189.46" width="2.89" height="2.83" fill="#e7a398"/>
<rect x="654.21" y="189.46" width="2.89" height="2.83" fill="#adc6e0"/>
<rect x="657.06" y="189.46" width="2.89" height="2.83" fill="#ccdcec"/>
<rect x="659.90" y="189.46" width="2.89" height="2.83" fill="#faecea"/>
<rect x="662.74" y="189.46" width="2.89" height="2.83" fill="#eef3f8"/>
<rect x="665.58" y="189.46" width="2.89" height="2.83" fill="#faedeb"/>
<rect x="668.42" y="189.46" width="2.89" height="2.83" fill="#a7c2de"/>
<rect x="671.26" y="189.46" width="2.89" height="2.83" fill="#f3f7fa"/>
<rect x="605.92" y="192.24" width="2.89" height="2.83" fill="#1f4e8c"/>
<rect x="608.76" y="192.24" width="2.89" height="2.83" fill="#d2e0ee"/>
<rect x="611.60" y="192.24" width="2.89" height="2.83" fill="#f0f5f9"/>
<rect x="614.44" y="192.24" width="2.89" height="2.83" fill="#eff3f9"/>
<rect x="617.29" y="192.24" width="2.89" height="2.83" fill="#edf3f8"/>
<rect x="620.13" y="192.24" width="2.89" height="2.83" fill="#fbf0ee"/>
<rect x="622.97" y="192.24" width="2.89" height="2.83" fill="#76a1cc"/>
<rect x="625.81" y="192.24" width="2.89" height="2.83" fill="#f1c9c2"/>
<rect x="628.65" y="192.24" width="2.89" height="2.83" fill="#e69f94"/>
<rect x="631.49" y="192.24" width="2.89" height="2.83" fill="#eaf1f7"/>
<rect x="634.33" y="192.24" width="2.89" height="2.83" fill="#ecf2f7"/>
<rect x="637.17" y="192.24" width="2.89" height="2.83" fill="#d0deed"/>
<rect x="640.01" y="192.24" width="2.89" height="2.83" fill="#eff4f9"/>
<rect x="642.85" y="192.24" width="2.89" height="2.83" fill="#ecf2f7"/>
<rect x="645.69" y="192.24" width="2.89" height="2.83" fill="#d2e0ee"/>
<rect x="648.53" y="192.24" width="2.89" height="2.83" fill="#93b5d6"/>
<rect x="651.37" y="192.24" width="2.89" height="2.83" fill="#dfe9f3"/>
<rect x="654.21" y="192.24" width="2.89" height="2.83" fill="#f8fafc"/>
<rect x="657.06" y="192.24" width="2.89" height="2.83" fill="#7ca5ce"/>
<rect x="659.90" y="192.24" width="2.89" height="2.83" fill="#c8d9ea"/>
<rect x="662.74" y="192.24" width="2.89" height="2.83" fill="#faecea"/>
<rect x="665.58" y="192.24" width="2.89" height="2.83" fill="#6897c6"/>
<rect x="668.42" y="192.24" width="2.89" height="2.83" fill="#bbd0e5"/>
<rect x="671.26" y="192.24" width="2.89" height="2.83" fill="#fefbfb"/>
<rect x="608.76" y="195.03" width="2.89" height="2.83" fill="#1f4e8c"/>
<rect x="611.60" y="195.03" width="2.89" height="2.83" fill="#f8e5e2"/>
<rect x="614.44" y="195.03" width="2.89" height="2.83" fill="#d4e1ef"/>
<rect x="617.29" y="195.03" width="2.89" height="2.83" fill="#fbf2f0"/>
<rect x="620.13" y="195.03" width="2.89" height="2.83" fill="#f9e9e7"/>
<rect x="622.97" y="195.03" width="2.89" height="2.83" fill="#f7e0dc"/>
<rect x="625.81" y="195.03" width="2.89" height="2.83" fill="#fefefe"/>
<rect x="628.65" y="195.03" width="2.89" height="2.83" fill="#a9c3de"/>
<rect x="631.49" y="195.03" width="2.89" height="2.83" fill="#fbfcfd"/>
<rect x="634.33" y="195.03" width="2.89" height="2.83" fill="#f5dad6"/>
<rect x="637.17" y="195.03" width="2.89" height="2.83" fill="#c0d4e7"/>
<rect x="640.01" y="195.03" width="2.89" height="2.83" fill="#e0eaf3"/>
<rect x="642.85" y="195.03" width="2.89" height="2.83" fill="#b7cde4"/>
<rect x="645.69" y="195.03" width="2.89" height="2.83" fill="#a4c0dd"/>
<rect x="648.53" y="195.03" width="2.89" height="2.83" fill="#d0deed"/>
<rect x="651.37" y="195.03" width="2.89" height="2.83" fill="#cfdeed"/>
<rect x="654.21" y="195.03" width="2.89" height="2.83" fill="#e6eef5"/>
<rect x="657.06" y="195.03" width="2.89" height="2.83" fill="#f8e6e3"/>
<rect x="659.90" y="195.03" width="2.89" height="2.83" fill="#c0d4e7"/>
<rect x="662.74" y="195.03" width="2.89" height="2.83" fill="#9bbad9"/>
<rect x="665.58" y="195.03" width="2.89" height="2.83" fill="#dbe6f1"/>
<rect x="668.42" y="195.03" width="2.89" height="2.83" fill="#f1f5f9"/>
<rect x="671.26" y="195.03" width="2.89" height="2.83" fill="#f2f6fa"/>
<rect x="611.60" y="197.81" width="2.89" height="2.83" fill="#1f4e8c"/>
<rect x="614.44" y="197.81" width="2.89" height="2.83" fill="#aec7e0"/>
<rect x="617.29" y="197.81" width="2.89" height="2.83" fill="#afc8e1"/>
<rect x="620.13" y="197.81" width="2.89" height="2.83" fill="#9ab9d9"/>
<rect x="622.97" y="197.81" width="2.89" height="2.83" fill="#b1c9e2"/>
<rect x="625.81" y="197.81" width="2.89" height="2.83" fill="#9cbada"/>
<rect x="628.65" y="197.81" width="2.89" height="2.83" fill="#d8e4f0"/>
<rect x="631.49" y="197.81" width="2.89" height="2.83" fill="#9ebcda"/>
<rect x="634.33" y="197.81" width="2.89" height="2.83" fill="#aec7e0"/>
<rect x="637.17" y="197.81" width="2.89" height="2.83" fill="#c2d5e8"/>
<rect x="640.01" y="197.81" width="2.89" height="2.83" fill="#f6dedb"/>
<rect x="642.85" y="197.81" width="2.89" height="2.83" fill="#b1c9e2"/>
<rect x="645.69" y="197.81" width="2.89" height="2.83" fill="#76a0cb"/>
<rect x="648.53" y="197.81" width="2.89" height="2.83" fill="#fcf6f5"/>
<rect x="651.37" y="197.81" width="2.89" height="2.83" fill="#fefefe"/>
<rect x="654.21" y="197.81" width="2.89" height="2.83" fill="#fefcfc"/>
<rect x="657.06" y="197.81" width="2.89" height="2.83" fill="#c1d4e8"/>
<rect x="659.90" y="197.81" width="2.89" height="2.83" fill="#faefed"/>
<rect x="662.74" y="197.81" width="2.89" height="2.83" fill="#afc8e1"/>
<rect x="665.58" y="197.81" width="2.89" height="2.83" fill="#f4f7fb"/>
<rect x="668.42" y="197.81" width="2.89" height="2.83" fill="#b3cae2"/>
<rect x="671.26" y="197.81" width="2.89" height="2.83" fill="#e2ebf4"/>
<rect x="614.44" y="200.59" width="2.89" height="2.83" fill="#1f4e8c"/>
<rect x="617.29" y="200.59" width="2.89" height="2.83" fill="#91b3d5"/>
<rect x="620.13" y="200.59" width="2.89" height="2.83" fill="#d3e1ee"/>
<rect x="622.97" y="200.59" width="2.89" height="2.83" fill="#a9c4df"/>
<rect x="625.81" y="200.59" width="2.89" height="2.83" fill="#92b4d6"/>
<rect x="628.65" y="200.59" width="2.89" height="2.83" fill="#6192c4"/>
<rect x="631.49" y="200.59" width="2.89" height="2.83" fill="#a4c0dd"/>
<rect x="634.33" y="200.59" width="2.89" height="2.83" fill="#d6e3ef"/>
<rect x="637.17" y="200.59" width="2.89" height="2.83" fill="#6f9bc9"/>
<rect x="640.01" y="200.59" width="2.89" height="2.83" fill="#7ca5ce"/>
<rect x="642.85" y="200.59" width="2.89" height="2.83" fill="#b9cee4"/>
<rect x="645.69" y="200.59" width="2.89" height="2.83" fill="#c8d9ea"/>
<rect x="648.53" y="200.59" width="2.89" height="2.83" fill="#f9fbfc"/>
<rect x="651.37" y="200.59" width="2.89" height="2.83" fill="#b9cee4"/>
<rect x="654.21" y="200.59" width="2.89" height="2.83" fill="#c7d8ea"/>
<rect x="657.06" y="200.59" width="2.89" height="2.83" fill="#faeeec"/>
<rect x="659.90" y="200.59" width="2.89" height="2.83" fill="#d0deed"/>
<rect x="662.74" y="200.59" width="2.89" height="2.83" fill="#fdfefe"/>
<rect x="665.58" y="200.59" width="2.89" height="2.83" fill="#fcf5f4"/>
<rect x="668.42" y="200.59" width="2.89" height="2.83" fill="#a2bfdc"/>
<rect x="671.26" y="200.59" width="2.89" height="2.83" fill="#b8cee4"/>
<rect x="617.29" y="203.37" width="2.89" height="2.83" fill="#1f4e8c"/>
<rect x="620.13" y="203.37" width="2.89" height="2.83" fill="#abc5df"/>
<rect x="622.97" y="203.37" width="2.89" height="2.83" fill="#80a7cf"/>
<rect x="625.81" y="203.37" width="2.89" height="2.83" fill="#6a98c7"/>
<rect x="628.65" y="203.37" width="2.89" height="2.83" fill="#a6c2de"/>
<rect x="631.49" y="203.37" width="2.89" height="2.83" fill="#b7cde4"/>
<rect x="634.33" y="203.37" width="2.89" height="2.83" fill="#8db0d4"/>
<rect x="637.17" y="203.37" width="2.89" height="2.83" fill="#e4ecf4"/>
<rect x="640.01" y="203.37" width="2.89" height="2.83" fill="#9fbddb"/>
<rect x="642.85" y="203.37" width="2.89" height="2.83" fill="#89aed3"/>
<rect x="645.69" y="203.37" width="2.89" height="2.83" fill="#96b6d7"/>
<rect x="648.53" y="203.37" width="2.89" height="2.83" fill="#f6dedb"/>
<rect x="651.37" y="203.37" width="2.89" height="2.83" fill="#d3e0ee"/>
<rect x="654.21" y="203.37" width="2.89" height="2.83" fill="#fbf1ef"/>
<rect x="657.06" y="203.37" width="2.89" height="2.83" fill="#c5d7e9"/>
<rect x="659.90" y="203.37" width="2.89" height="2.83" fill="#c4d6e8"/>
<rect x="662.74" y="203.37" width="2.89" height="2.83" fill="#d8e4f0"/>
<rect x="665.58" y="203.37" width="2.89" height="2.83" fill="#fcf4f3"/>
<rect x="668.42" y="203.37" width="2.89" height="2.83" fill="#fefbfb"/>
<rect x="671.26" y="203.37" width="2.89" height="2.83" fill="#b6cde4"/>
<rect x="620.13" y="206.15" width="2.89" height="2.83" fill="#1f4e8c"/>
<rect x="622.97" y="206.15" width="2.89" height="2.83" fill="#b4cbe3"/>
<rect x="625.81" y="206.15" width="2.89" height="2.83" fill="#6a98c7"/>
<rect x="628.65" y="206.15" width="2.89" height="2.83" fill="#6998c7"/>
<rect x="631.49" y="206.15" width="2.89" height="2.83" fill="#c0d3e7"/>
<rect x="634.33" y="206.15" width="2.89" height="2.83" fill="#3171b2"/>
<rect x="637.17" y="206.15" width="2.89" height="2.83" fill="#81a8cf"/>
<rect x="640.01" y="206.15" width="2.89" height="2.83" fill="#3e7ab7"/>
<rect x="642.85" y="206.15" width="2.89" height="2.83" fill="#f9e9e7"/>
<rect x="645.69" y="206.15" width="2.89" height="2.83" fill="#f7e1dd"/>
<rect x="648.53" y="206.15" width="2.89" height="2.83" fill="#b0c8e1"/>
<rect x="651.37" y="206.15" width="2.89" height="2.83" fill="#c2d5e8"/>
<rect x="654.21" y="206.15" width="2.89" height="2.83" fill="#f4f8fb"/>
<rect x="657.06" y="206.15" width="2.89" height="2.83" fill="#e7eef6"/>
<rect x="659.90" y="206.15" width="2.89" height="2.83" fill="#f1c9c3"/>
<rect x="662.74" y="206.15" width="2.89" height="2.83" fill="#fdfaf9"/>
<rect x="665.58" y="206.15" width="2.89" height="2.83" fill="#f9eae8"/>
<rect x="668.42" y="206.15" width="2.89" height="2.83" fill="#f0f4f9"/>
<rect x="671.26" y="206.15" width="2.89" height="2.83" fill="#b5cce3"/>
<rect x="622.97" y="208.93" width="2.89" height="2.83" fill="#1f4e8c"/>
<rect x="625.81" y="208.93" width="2.89" height="2.83" fill="#82a8d0"/>
<rect x="628.65" y="208.93" width="2.89" height="2.83" fill="#719dc9"/>
<rect x="631.49" y="208.93" width="2.89" height="2.83" fill="#d6e3ef"/>
<rect x="634.33" y="208.93" width="2.89" height="2.83" fill="#c8d9ea"/>
<rect x="637.17" y="208.93" width="2.89" height="2.83" fill="#7ea6cf"/>
<rect x="640.01" y="208.93" width="2.89" height="2.83" fill="#c0d3e7"/>
<rect x="642.85" y="208.93" width="2.89" height="2.83" fill="#6d9bc8"/>
<rect x="645.69" y="208.93" width="2.89" height="2.83" fill="#dfe9f3"/>
<rect x="648.53" y="208.93" width="2.89" height="2.83" fill="#7fa7cf"/>
<rect x="651.37" y="208.93" width="2.89" height="2.83" fill="#faecea"/>
<rect x="654.21" y="208.93" width="2.89" height="2.83" fill="#abc5df"/>
<rect x="657.06" y="208.93" width="2.89" height="2.83" fill="#fcf4f3"/>
<rect x="659.90" y="208.93" width="2.89" height="2.83" fill="#8cb0d4"/>
<rect x="662.74" y="208.93" width="2.89" height="2.83" fill="#dde7f2"/>
<rect x="665.58" y="208.93" width="2.89" height="2.83" fill="#cfdeed"/>
<rect x="668.42" y="208.93" width="2.89" height="2.83" fill="#bcd1e6"/>
<rect x="671.26" y="208.93" width="2.89" height="2.83" fill="#fdf9f9"/>
<rect x="625.81" y="211.71" width="2.89" height="2.83" fill="#1f4e8c"/>
<rect x="628.65" y="211.71" width="2.89" height="2.83" fill="#bcd1e6"/>
<rect x="631.49" y="211.71" width="2.89" height="2.83" fill="#f9e9e6"/>
<rect x="634.33" y="211.71" width="2.89" height="2.83" fill="#709cc9"/>
<rect x="637.17" y="211.71" width="2.89" height="2.83" fill="#a9c4df"/>
<rect x="640.01" y="211.71" width="2.89" height="2.83" fill="#d0dfed"/>
<rect x="642.85" y="211.71" width="2.89" height="2.83" fill="#b2cae2"/>
<rect x="645.69" y="211.71" width="2.89" height="2.83" fill="#4780ba"/>
<rect x="648.53" y="211.71" width="2.89" height="2.83" fill="#f2d0ca"/>
<rect x="651.37" y="211.71" width="2.89" height="2.83" fill="#d7e3f0"/>
<rect x="654.21" y="211.71" width="2.89" height="2.83" fill="#f9fbfc"/>
<rect x="657.06" y="211.71" width="2.89" height="2.83" fill="#c8d9ea"/>
<rect x="659.90" y="211.71" width="2.89" height="2.83" fill="#f2cdc7"/>
<rect x="662.74" y="211.71" width="2.89" height="2.83" fill="#f9fbfc"/>
<rect x="665.58" y="211.71" width="2.89" height="2.83" fill="#b7cde4"/>
<rect x="668.42" y="211.71" width="2.89" height="2.83" fill="#91b3d5"/>
<rect x="671.26" y="211.71" width="2.89" height="2.83" fill="#8fb2d5"/>
<rect x="628.65" y="214.50" width="2.89" height="2.83" fill="#1f4e8c"/>
<rect x="631.49" y="214.50" width="2.89" height="2.83" fill="#dee8f2"/>
<rect x="634.33" y="214.50" width="2.89" height="2.83" fill="#aec7e0"/>
<rect x="637.17" y="214.50" width="2.89" height="2.83" fill="#8aaed3"/>
<rect x="640.01" y="214.50" width="2.89" height="2.83" fill="#fafbfd"/>
<rect x="642.85" y="214.50" width="2.89" height="2.83" fill="#fefefe"/>
<rect x="645.69" y="214.50" width="2.89" height="2.83" fill="#88add2"/>
<rect x="648.53" y="214.50" width="2.89" height="2.83" fill="#d7e3f0"/>
<rect x="651.37" y="214.50" width="2.89" height="2.83" fill="#ebf1f7"/>
<rect x="654.21" y="214.50" width="2.89" height="2.83" fill="#a3bfdc"/>
<rect x="657.06" y="214.50" width="2.89" height="2.83" fill="#faebe9"/>
<rect x="659.90" y="214.50" width="2.89" height="2.83" fill="#c8d9ea"/>
<rect x="662.74" y="214.50" width="2.89" height="2.83" fill="#e3ecf4"/>
<rect x="665.58" y="214.50" width="2.89" height="2.83" fill="#e7eef6"/>
<rect x="668.42" y="214.50" width="2.89" height="2.83" fill="#cadaeb"/>
<rect x="671.26" y="214.50" width="2.89" height="2.83" fill="#dae6f1"/>
<rect x="631.49" y="217.28" width="2.89" height="2.83" fill="#1f4e8c"/>
<rect x="634.33" y="217.28" width="2.89" height="2.83" fill="#76a1cc"/>
<rect x="637.17" y="217.28" width="2.89" height="2.83" fill="#a3bfdc"/>
<rect x="640.01" y="217.28" width="2.89" height="2.83" fill="#2c6db0"/>
<rect x="642.85" y="217.28" width="2.89" height="2.83" fill="#95b6d7"/>
<rect x="645.69" y="217.28" width="2.89" height="2.83" fill="#4e85bd"/>
<rect x="648.53" y="217.28" width="2.89" height="2.83" fill="#c3d6e8"/>
<rect x="651.37" y="217.28" width="2.89" height="2.83" fill="#f6f9fc"/>
<rect x="654.21" y="217.28" width="2.89" height="2.83" fill="#b9cfe5"/>
<rect x="657.06" y="217.28" width="2.89" height="2.83" fill="#fbf1ef"/>
<rect x="659.90" y="217.28" width="2.89" height="2.83" fill="#a6c2dd"/>
<rect x="662.74" y="217.28" width="2.89" height="2.83" fill="#fbf3f1"/>
<rect x="665.58" y="217.28" width="2.89" height="2.83" fill="#fefefe"/>
<rect x="668.42" y="217.28" width="2.89" height="2.83" fill="#d3e0ee"/>
<rect x="671.26" y="217.28" width="2.89" height="2.83" fill="#b8cee4"/>
<rect x="634.33" y="220.06" width="2.89" height="2.83" fill="#1f4e8c"/>
<rect x="637.17" y="220.06" width="2.89" height="2.83" fill="#80a8cf"/>
<rect x="640.01" y="220.06" width="2.89" height="2.83" fill="#558abf"/>
<rect x="642.85" y="220.06" width="2.89" height="2.83" fill="#8fb2d5"/>
<rect x="645.69" y="220.06" width="2.89" height="2.83" fill="#b7cde4"/>
<rect x="648.53" y="220.06" width="2.89" height="2.83" fill="#c7d8ea"/>
<rect x="651.37" y="220.06" width="2.89" height="2.83" fill="#d4e1ef"/>
<rect x="654.21" y="220.06" width="2.89" height="2.83" fill="#faedeb"/>
<rect x="657.06" y="220.06" width="2.89" height="2.83" fill="#b0c8e1"/>
<rect x="659.90" y="220.06" width="2.89" height="2.83" fill="#d9e5f1"/>
<rect x="662.74" y="220.06" width="2.89" height="2.83" fill="#faedeb"/>
<rect x="665.58" y="220.06" width="2.89" height="2.83" fill="#ccdcec"/>
<rect x="668.42" y="220.06" width="2.89" height="2.83" fill="#f6dfdb"/>
<rect x="671.26" y="220.06" width="2.89" height="2.83" fill="#fbf0ee"/>
<rect x="637.17" y="222.84" width="2.89" height="2.83" fill="#1f4e8c"/>
<rect x="640.01" y="222.84" width="2.89" height="2.83" fill="#9bbad9"/>
<rect x="642.85" y="222.84" width="2.89" height="2.83" fill="#fefbfa"/>
<rect x="645.69" y="222.84" width="2.89" height="2.83" fill="#afc8e1"/>
<rect x="648.53" y="222.84" width="2.89" height="2.83" fill="#f6deda"/>
<rect x="651.37" y="222.84" width="2.89" height="2.83" fill="#bdd1e6"/>
<rect x="654.21" y="222.84" width="2.89" height="2.83" fill="#fcf6f5"/>
<rect x="657.06" y="222.84" width="2.89" height="2.83" fill="#dae5f1"/>
<rect x="659.90" y="222.84" width="2.89" height="2.83" fill="#f5d8d4"/>
<rect x="662.74" y="222.84" width="2.89" height="2.83" fill="#f6f9fb"/>
<rect x="665.58" y="222.84" width="2.89" height="2.83" fill="#b1c9e2"/>
<rect x="668.42" y="222.84" width="2.89" height="2.83" fill="#cbdbeb"/>
<rect x="671.26" y="222.84" width="2.89" height="2.83" fill="#f1cbc5"/>
<rect x="640.01" y="225.62" width="2.89" height="2.83" fill="#1f4e8c"/>
<rect x="642.85" y="225.62" width="2.89" height="2.83" fill="#5388be"/>
<rect x="645.69" y="225.62" width="2.89" height="2.83" fill="#558abf"/>
<rect x="648.53" y="225.62" width="2.89" height="2.83" fill="#f8fafc"/>
<rect x="651.37" y="225.62" width="2.89" height="2.83" fill="#98b8d8"/>
<rect x="654.21" y="225.62" width="2.89" height="2.83" fill="#f9e9e7"/>
<rect x="657.06" y="225.62" width="2.89" height="2.83" fill="#e8eff6"/>
<rect x="659.90" y="225.62" width="2.89" height="2.83" fill="#a9c3de"/>
<rect x="662.74" y="225.62" width="2.89" height="2.83" fill="#9ebcda"/>
<rect x="665.58" y="225.62" width="2.89" height="2.83" fill="#a0bddb"/>
<rect x="668.42" y="225.62" width="2.89" height="2.83" fill="#f9e8e5"/>
<rect x="671.26" y="225.62" width="2.89" height="2.83" fill="#f2cec8"/>
<rect x="642.85" y="228.40" width="2.89" height="2.83" fill="#1f4e8c"/>
<rect x="645.69" y="228.40" width="2.89" height="2.83" fill="#709cc9"/>
<rect x="648.53" y="228.40" width="2.89" height="2.83" fill="#f5dbd7"/>
<rect x="651.37" y="228.40" width="2.89" height="2.83" fill="#ebf1f7"/>
<rect x="654.21" y="228.40" width="2.89" height="2.83" fill="#f7e1dd"/>
<rect x="657.06" y="228.40" width="2.89" height="2.83" fill="#abc5df"/>
<rect x="659.90" y="228.40" width="2.89" height="2.83" fill="#b9cfe5"/>
<rect x="662.74" y="228.40" width="2.89" height="2.83" fill="#c6d8e9"/>
<rect x="665.58" y="228.40" width="2.89" height="2.83" fill="#e3ecf4"/>
<rect x="668.42" y="228.40" width="2.89" height="2.83" fill="#e1eaf4"/>
<rect x="671.26" y="228.40" width="2.89" height="2.83" fill="#f4f7fa"/>
<rect x="645.69" y="231.19" width="2.89" height="2.83" fill="#1f4e8c"/>
<rect x="648.53" y="231.19" width="2.89" height="2.83" fill="#cfdeed"/>
<rect x="651.37" y="231.19" width="2.89" height="2.83" fill="#d7e3f0"/>
<rect x="654.21" y="231.19" width="2.89" height="2.83" fill="#cbdbeb"/>
<rect x="657.06" y="231.19" width="2.89" height="2.83" fill="#fbfcfd"/>
<rect x="659.90" y="231.19" width="2.89" height="2.83" fill="#7fa6cf"/>
<rect x="662.74" y="231.19" width="2.89" height="2.83" fill="#d5e2ef"/>
<rect x="665.58" y="231.19" width="2.89" height="2.83" fill="#9ab9d9"/>
<rect x="668.42" y="231.19" width="2.89" height="2.83" fill="#9dbbda"/>
<rect x="671.26" y="231.19" width="2.89" height="2.83" fill="#fbf0ee"/>
<rect x="648.53" y="233.97" width="2.89" height="2.83" fill="#1f4e8c"/>
<rect x="651.37" y="233.97" width="2.89" height="2.83" fill="#f8e6e3"/>
<rect x="654.21" y="233.97" width="2.89" height="2.83" fill="#a1bedb"/>
<rect x="657.06" y="233.97" width="2.89" height="2.83" fill="#f9fafc"/>
<rect x="659.90" y="233.97" width="2.89" height="2.83" fill="#dfe9f3"/>
<rect x="662.74" y="233.97" width="2.89" height="2.83" fill="#f2f6fa"/>
<rect x="665.58" y="233.97" width="2.89" height="2.83" fill="#dde7f2"/>
<rect x="668.42" y="233.97" width="2.89" height="2.83" fill="#f8e4e1"/>
<rect x="671.26" y="233.97" width="2.89" height="2.83" fill="#e9f0f7"/>
<rect x="651.37" y="236.75" width="2.89" height="2.83" fill="#1f4e8c"/>
<rect x="654.21" y="236.75" width="2.89" height="2.83" fill="#fdfdfe"/>
<rect x="657.06" y="236.75" width="2.89" height="2.83" fill="#e5edf5"/>
<rect x="659.90" y="236.75" width="2.89" height="2.83" fill="#ecb8b0"/>
<rect x="662.74" y="236.75" width="2.89" height="2.83" fill="#b8cee4"/>
<rect x="665.58" y="236.75" width="2.89" height="2.83" fill="#d2e0ee"/>
<rect x="668.42" y="236.75" width="2.89" height="2.83" fill="#f2d0ca"/>
<rect x="671.26" y="236.75" width="2.89" height="2.83" fill="#fcf6f4"/>
<rect x="654.21" y="239.53" width="2.89" height="2.83" fill="#1f4e8c"/>
<rect x="657.06" y="239.53" width="2.89" height="2.83" fill="#99b9d9"/>
<rect x="659.90" y="239.53" width="2.89" height="2.83" fill="#79a3cd"/>
<rect x="662.74" y="239.53" width="2.89" height="2.83" fill="#9bbad9"/>
<rect x="665.58" y="239.53" width="2.89" height="2.83" fill="#5187be"/>
<rect x="668.42" y="239.53" width="2.89" height="2.83" fill="#99b9d9"/>
<rect x="671.26" y="239.53" width="2.89" height="2.83" fill="#d0deed"/>
<rect x="657.06" y="242.31" width="2.89" height="2.83" fill="#1f4e8c"/>
<rect x="659.90" y="242.31" width="2.89" height="2.83" fill="#bfd2e7"/>
<rect x="662.74" y="242.31" width="2.89" height="2.83" fill="#739eca"/>
<rect x="665.58" y="242.31" width="2.89" height="2.83" fill="#bbd0e5"/>
<rect x="668.42" y="242.31" width="2.89" height="2.83" fill="#6e9bc8"/>
<rect x="671.26" y="242.31" width="2.89" height="2.83" fill="#6494c5"/>
<rect x="659.90" y="245.09" width="2.89" height="2.83" fill="#1f4e8c"/>
<rect x="662.74" y="245.09" width="2.89" height="2.83" fill="#7ba4cd"/>
<rect x="665.58" y="245.09" width="2.89" height="2.83" fill="#6494c5"/>
<rect x="668.42" y="245.09" width="2.89" height="2.83" fill="#a4c0dd"/>
<rect x="671.26" y="245.09" width="2.89" height="2.83" fill="#9bbad9"/>
<rect x="662.74" y="247.87" width="2.89" height="2.83" fill="#1f4e8c"/>
<rect x="665.58" y="247.87" width="2.89" height="2.83" fill="#bacfe5"/>
<rect x="668.42" y="247.87" width="2.89" height="2.83" fill="#bbd0e5"/>
<rect x="671.26" y="247.87" width="2.89" height="2.83" fill="#eef3f8"/>
<rect x="665.58" y="250.66" width="2.89" height="2.83" fill="#1f4e8c"/>
<rect x="668.42" y="250.66" width="2.89" height="2.83" fill="#b8cee4"/>
<rect x="671.26" y="250.66" width="2.89" height="2.83" fill="#d4e1ee"/>
<rect x="668.42" y="253.44" width="2.89" height="2.83" fill="#1f4e8c"/>
<rect x="671.26" y="253.44" width="2.89" height="2.83" fill="#e7eef6"/>
<rect x="671.26" y="256.22" width="2.89" height="2.83" fill="#1f4e8c"/>
<defs><linearGradient id="cg" x1="0" y1="0" x2="0" y2="1"><stop offset="0" stop-color="#1f4e8c"/><stop offset="0.25" stop-color="#6aa6d0"/><stop offset="0.5" stop-color="#f7f7f7"/><stop offset="0.75" stop-color="#f0a080"/><stop offset="1" stop-color="#8a0a22"/></linearGradient></defs>
<rect x="675.8" y="183.9" width="3" height="75.4" fill="url(#cg)"/>
<rect x="680.3" y="184.5" width="1.2" height="0.6" fill="#aaa"/>
<rect x="680.3" y="191.9" width="1.2" height="0.6" fill="#aaa"/>
<rect x="680.3" y="199.3" width="1.2" height="0.6" fill="#aaa"/>
<rect x="680.3" y="206.7" width="1.2" height="0.6" fill="#aaa"/>
<rect x="680.3" y="214.1" width="1.2" height="0.6" fill="#aaa"/>
<rect x="680.3" y="221.5" width="1.2" height="0.6" fill="#aaa"/>
<rect x="680.3" y="228.9" width="1.2" height="0.6" fill="#aaa"/>
<rect x="680.3" y="236.3" width="1.2" height="0.6" fill="#aaa"/>
<rect x="680.3" y="243.7" width="1.2" height="0.6" fill="#aaa"/>
<rect x="680.3" y="251.1" width="1.2" height="0.6" fill="#aaa"/>
<rect x="680.3" y="258.5" width="1.2" height="0.6" fill="#aaa"/>
<rect x="598.60" y="182.0" width="0.8" height="1.0" fill="#c8c8c8"/>
<rect x="612.00" y="176.5" width="1.4" height="0.8" fill="#e4e4e4"/>
<rect x="601.44" y="182.0" width="0.8" height="1.0" fill="#c8c8c8"/>
<rect x="614.20" y="176.5" width="1.4" height="0.8" fill="#e4e4e4"/>
<rect x="604.28" y="182.0" width="0.8" height="1.0" fill="#c8c8c8"/>
<rect x="616.40" y="176.5" width="1.4" height="0.8" fill="#e4e4e4"/>
<rect x="607.12" y="182.0" width="0.8" height="1.0" fill="#c8c8c8"/>
<rect x="618.60" y="176.5" width="1.4" height="0.8" fill="#e4e4e4"/>
<rect x="609.96" y="182.0" width="0.8" height="1.0" fill="#c8c8c8"/>
<rect x="620.80" y="176.5" width="1.4" height="0.8" fill="#e4e4e4"/>
<rect x="612.80" y="182.0" width="0.8" height="1.0" fill="#c8c8c8"/>
<rect x="623.00" y="176.5" width="1.4" height="0.8" fill="#e4e4e4"/>
<rect x="615.64" y="182.0" width="0.8" height="1.0" fill="#c8c8c8"/>
<rect x="625.20" y="176.5" width="1.4" height="0.8" fill="#e4e4e4"/>
<rect x="618.48" y="182.0" width="0.8" height="1.0" fill="#c8c8c8"/>
<rect x="627.40" y="176.5" width="1.4" height="0.8" fill="#e4e4e4"/>
<rect x="621.32" y="182.0" width="0.8" height="1.0" fill="#c8c8c8"/>
<rect x="629.60" y="176.5" width="1.4" height="0.8" fill="#e4e4e4"/>
<rect x="624.16" y="182.0" width="0.8" height="1.0" fill="#c8c8c8"/>
<rect x="631.80" y="176.5" width="1.4" height="0.8" fill="#e4e4e4"/>
<rect x="627.00" y="182.0" width="0.8" height="1.0" fill="#c8c8c8"/>
<rect x="634.00" y="176.5" width="1.4" height="0.8" fill="#e4e4e4"/>
<rect x="629.84" y="182.0" width="0.8" height="1.0" fill="#c8c8c8"/>
<rect x="636.20" y="176.5" width="1.4" height="0.8" fill="#e4e4e4"/>
<rect x="632.68" y="182.0" width="0.8" height="1.0" fill="#c8c8c8"/>
<rect x="638.40" y="176.5" width="1.4" height="0.8" fill="#e4e4e4"/>
<rect x="635.52" y="182.0" width="0.8" height="1.0" fill="#c8c8c8"/>
<rect x="640.60" y="176.5" width="1.4" height="0.8" fill="#e4e4e4"/>
<rect x="638.36" y="182.0" width="0.8" height="1.0" fill="#c8c8c8"/>
<rect x="642.80" y="176.5" width="1.4" height="0.8" fill="#e4e4e4"/>
<rect x="641.20" y="182.0" width="0.8" height="1.0" fill="#c8c8c8"/>
<rect x="645.00" y="176.5" width="1.4" height="0.8" fill="#e4e4e4"/>
<rect x="644.04" y="182.0" width="0.8" height="1.0" fill="#c8c8c8"/>
<rect x="647.20" y="176.5" width="1.4" height="0.8" fill="#e4e4e4"/>
<rect x="646.88" y="182.0" width="0.8" height="1.0" fill="#c8c8c8"/>
<rect x="649.40" y="176.5" width="1.4" height="0.8" fill="#e4e4e4"/>
<rect x="649.72" y="182.0" width="0.8" height="1.0" fill="#c8c8c8"/>
<rect x="651.60" y="176.5" width="1.4" height="0.8" fill="#e4e4e4"/>
<rect x="652.56" y="182.0" width="0.8" height="1.0" fill="#c8c8c8"/>
<rect x="653.80" y="176.5" width="1.4" height="0.8" fill="#e4e4e4"/>
<rect x="655.40" y="182.0" width="0.8" height="1.0" fill="#c8c8c8"/>
<rect x="656.00" y="176.5" width="1.4" height="0.8" fill="#e4e4e4"/>
<rect x="658.24" y="182.0" width="0.8" height="1.0" fill="#c8c8c8"/>
<rect x="658.20" y="176.5" width="1.4" height="0.8" fill="#e4e4e4"/>
<rect x="661.08" y="182.0" width="0.8" height="1.0" fill="#c8c8c8"/>
<rect x="660.40" y="176.5" width="1.4" height="0.8" fill="#e4e4e4"/>
<rect x="663.92" y="182.0" width="0.8" height="1.0" fill="#c8c8c8"/>
<rect x="662.60" y="176.5" width="1.4" height="0.8" fill="#e4e4e4"/>
<rect x="666.76" y="182.0" width="0.8" height="1.0" fill="#c8c8c8"/>
<rect x="664.80" y="176.5" width="1.4" height="0.8" fill="#e4e4e4"/>
<rect x="669.60" y="182.0" width="0.8" height="1.0" fill="#c8c8c8"/>
<rect x="667.00" y="176.5" width="1.4" height="0.8" fill="#e4e4e4"/>
<rect x="672.44" y="182.0" width="0.8" height="1.0" fill="#c8c8c8"/>
<rect x="669.20" y="176.5" width="1.4" height="0.8" fill="#e4e4e4"/>
<text x="-1.2" y="335.8" font-size="11" text-anchor="start" fill="#111" color="#111" >B</text>
<text x="164.6" y="355.5" font-size="13.85" text-anchor="middle" fill="#111" color="#111" >PC scores All Variables</text>
<line x1="59.16" y1="434.45" x2="269.5" y2="434.45" stroke="#111" stroke-width="1.5" stroke-dasharray="1.6,2.68"/>
<line x1="162.9" y1="366.9" x2="162.9" y2="505.4" stroke="#111" stroke-width="1.5" stroke-dasharray="1.6,2.67"/>
<circle cx="65.4" cy="434.0" r="2.9" fill="#fb0a0a"/>
<circle cx="94.3" cy="423.1" r="2.9" fill="#fb0a0a"/>
<circle cx="91.6" cy="434.2" r="2.9" fill="#fb0a0a"/>
<circle cx="101.1" cy="439.8" r="2.9" fill="#fb0a0a"/>
<circle cx="113.1" cy="444.5" r="2.9" fill="#fb0a0a"/>
<circle cx="95.3" cy="448.2" r="2.9" fill="#fb0a0a"/>
<circle cx="88.2" cy="454.7" r="2.9" fill="#fb0a0a"/>
<circle cx="104.0" cy="459.6" r="2.9" fill="#fb0a0a"/>
<circle cx="130.5" cy="417.2" r="2.9" fill="#fb0a0a"/>
<circle cx="119.9" cy="428.4" r="2.9" fill="#fb0a0a"/>
<circle cx="120.8" cy="431.5" r="2.9" fill="#fb0a0a"/>
<circle cx="134.5" cy="428.6" r="2.9" fill="#fb0a0a"/>
<circle cx="138.2" cy="437.1" r="2.9" fill="#fb0a0a"/>
<circle cx="136.9" cy="439.5" r="2.9" fill="#fb0a0a"/>
<circle cx="143.3" cy="439.7" r="2.9" fill="#fb0a0a"/>
<circle cx="149.7" cy="436.9" r="2.9" fill="#fb0a0a"/>
<circle cx="146.1" cy="451.9" r="2.9" fill="#fb0a0a"/>
<circle cx="157.3" cy="439.8" r="2.9" fill="#fb0a0a"/>
<circle cx="156.5" cy="445.6" r="2.9" fill="#fb0a0a"/>
<circle cx="154.9" cy="456.0" r="2.9" fill="#fb0a0a"/>
<circle cx="159.1" cy="457.2" r="2.9" fill="#fb0a0a"/>
<circle cx="160.2" cy="451.5" r="2.9" fill="#fb0a0a"/>
<circle cx="161.8" cy="434.2" r="2.9" fill="#fb0a0a"/>
<circle cx="175.7" cy="417.4" r="2.9" fill="#fb0a0a"/>
<circle cx="149.6" cy="436.5" r="2.9" fill="#fb0a0a"/>
<circle cx="142.9" cy="439.9" r="2.9" fill="#fb0a0a"/>
<circle cx="156.4" cy="445.5" r="2.9" fill="#fb0a0a"/>
<circle cx="160.6" cy="450.7" r="2.9" fill="#fb0a0a"/>
<circle cx="154.5" cy="455.8" r="2.9" fill="#fb0a0a"/>
<circle cx="159.0" cy="457.4" r="2.9" fill="#fb0a0a"/>
<circle cx="196.7" cy="445.4" r="2.9" fill="#fb0a0a"/>
<circle cx="185.4" cy="460.3" r="2.9" fill="#fb0a0a"/>
<circle cx="163.0" cy="484.9" r="2.9" fill="#fb0a0a"/>
<circle cx="147.8" cy="405.1" r="2.9" fill="#1ef40c"/>
<circle cx="120.5" cy="421.0" r="2.9" fill="#1ef40c"/>
<circle cx="140.1" cy="421.0" r="2.9" fill="#1ef40c"/>
<circle cx="136.1" cy="425.0" r="2.9" fill="#1ef40c"/>
<circle cx="141.7" cy="425.5" r="2.9" fill="#1ef40c"/>
<circle cx="148.6" cy="420.7" r="2.9" fill="#1ef40c"/>
<circle cx="151.4" cy="421.3" r="2.9" fill="#1ef40c"/>
<circle cx="155.4" cy="419.9" r="2.9" fill="#1ef40c"/>
<circle cx="162.3" cy="419.7" r="2.9" fill="#1ef40c"/>
<circle cx="150.1" cy="429.1" r="2.9" fill="#1ef40c"/>
<circle cx="162.9" cy="401.4" r="2.9" fill="#1ef40c"/>
<circle cx="162.9" cy="413.3" r="2.9" fill="#1ef40c"/>
<circle cx="148.1" cy="439.0" r="2.9" fill="#1ef40c"/>
<circle cx="191.4" cy="389.2" r="2.9" fill="#1ef40c"/>
<circle cx="183.8" cy="395.7" r="2.9" fill="#1ef40c"/>
<circle cx="200.4" cy="402.2" r="2.9" fill="#1ef40c"/>
<circle cx="164.1" cy="400.1" r="2.9" fill="#1ef40c"/>
<circle cx="189.0" cy="411.6" r="2.9" fill="#1ef40c"/>
<circle cx="191.4" cy="413.7" r="2.9" fill="#1ef40c"/>
<circle cx="188.2" cy="416.9" r="2.9" fill="#1ef40c"/>
<circle cx="182.6" cy="419.3" r="2.9" fill="#1ef40c"/>
<circle cx="165.7" cy="421.0" r="2.9" fill="#1ef40c"/>
<circle cx="167.3" cy="423.0" r="2.9" fill="#1ef40c"/>
<circle cx="141.3" cy="421.4" r="2.9" fill="#1ef40c"/>
<circle cx="142.4" cy="425.8" r="2.9" fill="#1ef40c"/>
<circle cx="177.7" cy="426.9" r="2.9" fill="#1ef40c"/>
<circle cx="179.8" cy="432.2" r="2.9" fill="#1ef40c"/>
<circle cx="193.0" cy="423.4" r="2.9" fill="#1ef40c"/>
<circle cx="197.0" cy="423.8" r="2.9" fill="#1ef40c"/>
<circle cx="165.7" cy="434.3" r="2.9" fill="#1ef40c"/>
<circle cx="201.5" cy="440.2" r="2.9" fill="#1ef40c"/>
<circle cx="166.5" cy="449.4" r="2.9" fill="#1ef40c"/>
<circle cx="155.6" cy="419.8" r="2.9" fill="#1ef40c"/>
<circle cx="161.7" cy="419.3" r="2.9" fill="#1ef40c"/>
<circle cx="185.3" cy="412.4" r="2.9" fill="#7c0b86"/>
<circle cx="203.8" cy="412.8" r="2.9" fill="#7c0b86"/>
<circle cx="180.1" cy="423.4" r="2.9" fill="#7c0b86"/>
<circle cx="178.5" cy="428.5" r="2.9" fill="#7c0b86"/>
<circle cx="192.7" cy="426.9" r="2.9" fill="#7c0b86"/>
<circle cx="204.2" cy="432.2" r="2.9" fill="#7c0b86"/>
<circle cx="185.4" cy="436.2" r="2.9" fill="#7c0b86"/>
<circle cx="183.8" cy="438.6" r="2.9" fill="#7c0b86"/>
<circle cx="163.0" cy="445.0" r="2.9" fill="#7c0b86"/>
<circle cx="173.2" cy="442.6" r="2.9" fill="#7c0b86"/>
<circle cx="175.7" cy="445.0" r="2.9" fill="#7c0b86"/>
<circle cx="183.0" cy="448.3" r="2.9" fill="#7c0b86"/>
<circle cx="201.8" cy="450.7" r="2.9" fill="#7c0b86"/>
<circle cx="185.4" cy="454.8" r="2.9" fill="#7c0b86"/>
<circle cx="173.2" cy="459.0" r="2.9" fill="#7c0b86"/>
<circle cx="165.7" cy="463.0" r="2.9" fill="#7c0b86"/>
<circle cx="177.3" cy="467.8" r="2.9" fill="#7c0b86"/>
<circle cx="195.4" cy="459.8" r="2.9" fill="#7c0b86"/>
<circle cx="203.8" cy="464.5" r="2.9" fill="#7c0b86"/>
<circle cx="207.1" cy="457.1" r="2.9" fill="#7c0b86"/>
<circle cx="210.3" cy="462.2" r="2.9" fill="#7c0b86"/>
<circle cx="213.1" cy="459.0" r="2.9" fill="#7c0b86"/>
<rect x="56.3" y="363.5" width="213.2" height="141.89999999999998" fill="none" stroke="#222" stroke-width="1.1"/>
<line x1="50.8" y1="363.5" x2="56.3" y2="363.5" stroke="#222" stroke-width="1.1"/>
<text x="49.1" y="367.1" font-size="10.2" text-anchor="end" fill="#111" color="#111" >10</text>
<line x1="50.8" y1="399.0" x2="56.3" y2="399.0" stroke="#222" stroke-width="1.1"/>
<text x="49.1" y="402.6" font-size="10.2" text-anchor="end" fill="#111" color="#111" >5</text>
<line x1="50.8" y1="434.4" x2="56.3" y2="434.4" stroke="#222" stroke-width="1.1"/>
<text x="49.1" y="438.1" font-size="10.2" text-anchor="end" fill="#111" color="#111" >0</text>
<line x1="50.8" y1="469.9" x2="56.3" y2="469.9" stroke="#222" stroke-width="1.1"/>
<text x="49.1" y="473.5" font-size="10.2" text-anchor="end" fill="#111" color="#111" >-5</text>
<line x1="50.8" y1="505.4" x2="56.3" y2="505.4" stroke="#222" stroke-width="1.1"/>
<text x="49.1" y="509.0" font-size="10.2" text-anchor="end" fill="#111" color="#111" >-10</text>
<line x1="56.3" y1="505.4" x2="56.3" y2="510.9" stroke="#222" stroke-width="1.1"/>
<text x="56.3" y="522.9" font-size="10.2" text-anchor="middle" fill="#111" color="#111" >-10</text>
<line x1="109.6" y1="505.4" x2="109.6" y2="510.9" stroke="#222" stroke-width="1.1"/>
<text x="109.6" y="522.9" font-size="10.2" text-anchor="middle" fill="#111" color="#111" >-5</text>
<line x1="162.9" y1="505.4" x2="162.9" y2="510.9" stroke="#222" stroke-width="1.1"/>
<text x="162.9" y="522.9" font-size="10.2" text-anchor="middle" fill="#111" color="#111" >0</text>
<line x1="216.2" y1="505.4" x2="216.2" y2="510.9" stroke="#222" stroke-width="1.1"/>
<text x="216.2" y="522.9" font-size="10.2" text-anchor="middle" fill="#111" color="#111" >5</text>
<line x1="269.5" y1="505.4" x2="269.5" y2="510.9" stroke="#222" stroke-width="1.1"/>
<text x="269.5" y="522.9" font-size="10.2" text-anchor="middle" fill="#111" color="#111" >10</text>
<text x="164.0" y="538.6" font-size="11.9" text-anchor="middle" fill="#111" color="#111" >PC1 (11.84% var. expl.)</text>
<text x="0" y="0" font-size="12.0" fill="#111" color="#111" text-anchor="middle" transform="translate(33.9,433.5) rotate(-90)">PC2 (9.17% var. expl.)</text>
<circle cx="295.8" cy="384.2" r="4.9" fill="#7b2a8c" stroke="#4a1556" stroke-width="0.5"/>
<circle cx="295.8" cy="417.9" r="4.9" fill="#5cb840" stroke="#3a7a2a" stroke-width="0.5"/>
<circle cx="295.7" cy="453.2" r="4.9" fill="#e8302e" stroke="#9a1f1e" stroke-width="0.5"/>
<text x="307.0" y="389.4" font-size="11.4" text-anchor="start" fill="#111" color="#111" >Child</text>
<text x="323.5" y="416.3" font-size="11.4" text-anchor="middle" fill="#111" color="#111" >Mild</text>
<text x="322.7" y="429.7" font-size="11.4" text-anchor="middle" fill="#111" color="#111" >(AMD)</text>
<text x="324.3" y="451.3" font-size="11.4" text-anchor="middle" fill="#111" color="#111" >Severe</text>
<text x="325.0" y="464.6" font-size="11.4" text-anchor="middle" fill="#111" color="#111" >(ASD)</text>
<circle cx="608.65" cy="88.06" r="1.1" fill="#e02020"/>
<circle cx="618.94" cy="84.16" r="1.1" fill="#e02020"/>
<circle cx="617.98" cy="88.13" r="1.1" fill="#e02020"/>
<circle cx="621.36" cy="90.13" r="1.1" fill="#e02020"/>
<circle cx="625.63" cy="91.81" r="1.1" fill="#e02020"/>
<circle cx="619.29" cy="93.14" r="1.1" fill="#e02020"/>
<circle cx="616.77" cy="95.46" r="1.1" fill="#e02020"/>
<circle cx="622.39" cy="97.22" r="1.1" fill="#e02020"/>
<circle cx="631.83" cy="82.05" r="1.1" fill="#e02020"/>
<circle cx="628.05" cy="86.05" r="1.1" fill="#e02020"/>
<circle cx="628.37" cy="87.16" r="1.1" fill="#e02020"/>
<circle cx="633.25" cy="86.12" r="1.1" fill="#e02020"/>
<circle cx="634.57" cy="89.17" r="1.1" fill="#e02020"/>
<circle cx="634.11" cy="90.02" r="1.1" fill="#e02020"/>
<circle cx="636.39" cy="90.10" r="1.1" fill="#e02020"/>
<circle cx="638.66" cy="89.09" r="1.1" fill="#e02020"/>
<circle cx="637.38" cy="94.46" r="1.1" fill="#e02020"/>
<circle cx="641.37" cy="90.13" r="1.1" fill="#e02020"/>
<circle cx="641.09" cy="92.21" r="1.1" fill="#e02020"/>
<circle cx="640.52" cy="95.93" r="1.1" fill="#e02020"/>
<circle cx="642.01" cy="96.36" r="1.1" fill="#e02020"/>
<circle cx="642.40" cy="94.32" r="1.1" fill="#e02020"/>
<circle cx="642.97" cy="88.13" r="1.1" fill="#e02020"/>
<circle cx="647.92" cy="82.12" r="1.1" fill="#e02020"/>
<circle cx="638.63" cy="88.95" r="1.1" fill="#e02020"/>
<circle cx="636.24" cy="90.17" r="1.1" fill="#e02020"/>
<circle cx="641.05" cy="92.17" r="1.1" fill="#e02020"/>
<circle cx="642.55" cy="94.03" r="1.1" fill="#e02020"/>
<circle cx="640.37" cy="95.86" r="1.1" fill="#e02020"/>
<circle cx="641.98" cy="96.43" r="1.1" fill="#e02020"/>
<circle cx="655.40" cy="92.14" r="1.1" fill="#e02020"/>
<circle cx="651.38" cy="97.47" r="1.1" fill="#e02020"/>
<circle cx="643.40" cy="106.27" r="1.1" fill="#e02020"/>
<circle cx="637.99" cy="77.72" r="1.1" fill="#3cc43c"/>
<circle cx="628.27" cy="83.41" r="1.1" fill="#3cc43c"/>
<circle cx="635.25" cy="83.41" r="1.1" fill="#3cc43c"/>
<circle cx="633.82" cy="84.84" r="1.1" fill="#3cc43c"/>
<circle cx="635.82" cy="85.02" r="1.1" fill="#3cc43c"/>
<circle cx="638.27" cy="83.30" r="1.1" fill="#3cc43c"/>
<circle cx="639.27" cy="83.51" r="1.1" fill="#3cc43c"/>
<circle cx="640.69" cy="83.01" r="1.1" fill="#3cc43c"/>
<circle cx="643.15" cy="82.94" r="1.1" fill="#3cc43c"/>
<circle cx="638.81" cy="86.30" r="1.1" fill="#3cc43c"/>
<circle cx="643.36" cy="76.39" r="1.1" fill="#3cc43c"/>
<circle cx="643.36" cy="80.65" r="1.1" fill="#3cc43c"/>
<circle cx="638.09" cy="89.85" r="1.1" fill="#3cc43c"/>
<circle cx="653.51" cy="73.50" r="1.1" fill="#3cc43c"/>
<circle cx="650.81" cy="74.35" r="1.1" fill="#3cc43c"/>
<circle cx="656.72" cy="76.68" r="1.1" fill="#3cc43c"/>
<circle cx="643.79" cy="75.93" r="1.1" fill="#3cc43c"/>
<circle cx="652.66" cy="80.04" r="1.1" fill="#3cc43c"/>
<circle cx="653.51" cy="80.79" r="1.1" fill="#3cc43c"/>
<circle cx="652.37" cy="81.94" r="1.1" fill="#3cc43c"/>
<circle cx="650.38" cy="82.80" r="1.1" fill="#3cc43c"/>
<circle cx="644.36" cy="83.41" r="1.1" fill="#3cc43c"/>
<circle cx="644.93" cy="84.12" r="1.1" fill="#3cc43c"/>
<circle cx="635.67" cy="83.55" r="1.1" fill="#3cc43c"/>
<circle cx="636.07" cy="85.12" r="1.1" fill="#3cc43c"/>
<circle cx="648.63" cy="85.52" r="1.1" fill="#3cc43c"/>
<circle cx="649.38" cy="87.41" r="1.1" fill="#3cc43c"/>
<circle cx="654.08" cy="84.26" r="1.1" fill="#3cc43c"/>
<circle cx="655.51" cy="84.41" r="1.1" fill="#3cc43c"/>
<circle cx="644.36" cy="88.16" r="1.1" fill="#3cc43c"/>
<circle cx="657.11" cy="90.28" r="1.1" fill="#3cc43c"/>
<circle cx="644.65" cy="93.57" r="1.1" fill="#3cc43c"/>
<circle cx="640.77" cy="82.98" r="1.1" fill="#3cc43c"/>
<circle cx="642.94" cy="82.80" r="1.1" fill="#3cc43c"/>
<circle cx="651.34" cy="80.33" r="1.1" fill="#7c1a9a"/>
<circle cx="657.93" cy="80.47" r="1.1" fill="#7c1a9a"/>
<circle cx="649.49" cy="84.26" r="1.1" fill="#7c1a9a"/>
<circle cx="648.92" cy="86.09" r="1.1" fill="#7c1a9a"/>
<circle cx="653.98" cy="85.52" r="1.1" fill="#7c1a9a"/>
<circle cx="658.07" cy="87.41" r="1.1" fill="#7c1a9a"/>
<circle cx="651.38" cy="88.84" r="1.1" fill="#7c1a9a"/>
<circle cx="650.81" cy="89.70" r="1.1" fill="#7c1a9a"/>
<circle cx="643.40" cy="91.99" r="1.1" fill="#7c1a9a"/>
<circle cx="647.03" cy="91.13" r="1.1" fill="#7c1a9a"/>
<circle cx="647.92" cy="91.99" r="1.1" fill="#7c1a9a"/>
<circle cx="650.52" cy="93.17" r="1.1" fill="#7c1a9a"/>
<circle cx="657.22" cy="94.03" r="1.1" fill="#7c1a9a"/>
<circle cx="651.38" cy="95.50" r="1.1" fill="#7c1a9a"/>
<circle cx="647.03" cy="97.00" r="1.1" fill="#7c1a9a"/>
<circle cx="644.36" cy="98.43" r="1.1" fill="#7c1a9a"/>
<circle cx="648.49" cy="100.15" r="1.1" fill="#7c1a9a"/>
<circle cx="654.94" cy="97.29" r="1.1" fill="#7c1a9a"/>
<circle cx="657.93" cy="98.97" r="1.1" fill="#7c1a9a"/>
<circle cx="659.10" cy="96.32" r="1.1" fill="#7c1a9a"/>
<circle cx="660.24" cy="98.15" r="1.1" fill="#7c1a9a"/>
<circle cx="661.24" cy="97.00" r="1.1" fill="#7c1a9a"/>
<text x="374.6" y="336.6" font-size="10.4" text-anchor="start" fill="#111" color="#111" >C</text>
<line x1="424.4" y1="399.4" x2="424.4" y2="517.8" stroke="#333" stroke-width="1.1"/>
<line x1="424.4" y1="517.8" x2="502.4" y2="517.8" stroke="#333" stroke-width="1.1"/>
<line x1="420.2" y1="399.4" x2="424.4" y2="399.4" stroke="#333" stroke-width="1.1"/>
<text x="418.9" y="402.4" font-size="8.6" text-anchor="end" fill="#111" color="#111" >10</text>
<line x1="420.2" y1="429.0" x2="424.4" y2="429.0" stroke="#333" stroke-width="1.1"/>
<text x="418.9" y="432.0" font-size="8.6" text-anchor="end" fill="#111" color="#111" >5</text>
<line x1="420.2" y1="458.6" x2="424.4" y2="458.6" stroke="#333" stroke-width="1.1"/>
<text x="418.9" y="461.6" font-size="8.6" text-anchor="end" fill="#111" color="#111" >0</text>
<line x1="420.2" y1="488.2" x2="424.4" y2="488.2" stroke="#333" stroke-width="1.1"/>
<text x="418.9" y="491.2" font-size="8.6" text-anchor="end" fill="#111" color="#111" >-5</text>
<line x1="420.2" y1="517.8" x2="424.4" y2="517.8" stroke="#333" stroke-width="1.1"/>
<text x="418.9" y="520.8" font-size="8.6" text-anchor="end" fill="#111" color="#111" >-10</text>
<line x1="440.5" y1="517.8" x2="440.5" y2="522.4" stroke="#333" stroke-width="1.1"/>
<line x1="463.4" y1="517.8" x2="463.4" y2="522.4" stroke="#333" stroke-width="1.1"/>
<line x1="486.9" y1="517.8" x2="486.9" y2="522.4" stroke="#333" stroke-width="1.1"/>
<line x1="427.46" y1="458.76" x2="502.4" y2="458.76" stroke="#222" stroke-width="1.2" stroke-dasharray="1.2,2.3"/>
<text x="0" y="0" font-size="9.6" fill="#111" color="#111" text-anchor="middle" transform="translate(400.6,459.99999999999994) rotate(-90)">Scores PC1</text>
<line x1="432.2" y1="446.5" x2="448.0" y2="446.5" stroke="#111" stroke-width="1.2"/>
<line x1="455.5" y1="458.0" x2="471.0" y2="458.0" stroke="#111" stroke-width="1.2"/>
<line x1="479.5" y1="469.7" x2="494.7" y2="469.7" stroke="#111" stroke-width="1.2"/>
<circle cx="436.4" cy="430.3" r="1.75" fill="#7c1f9a" stroke="#3a0a4a" stroke-width="0.45"/>
<circle cx="446.4" cy="430.5" r="1.75" fill="#7c1f9a" stroke="#3a0a4a" stroke-width="0.45"/>
<circle cx="443.8" cy="432.4" r="1.75" fill="#7c1f9a" stroke="#3a0a4a" stroke-width="0.45"/>
<circle cx="439.0" cy="433.9" r="1.75" fill="#7c1f9a" stroke="#3a0a4a" stroke-width="0.45"/>
<circle cx="434.3" cy="435.5" r="1.75" fill="#7c1f9a" stroke="#3a0a4a" stroke-width="0.45"/>
<circle cx="436.9" cy="436.0" r="1.75" fill="#7c1f9a" stroke="#3a0a4a" stroke-width="0.45"/>
<circle cx="445.9" cy="436.0" r="1.75" fill="#7c1f9a" stroke="#3a0a4a" stroke-width="0.45"/>
<circle cx="443.8" cy="437.4" r="1.75" fill="#7c1f9a" stroke="#3a0a4a" stroke-width="0.45"/>
<circle cx="438.5" cy="440.6" r="1.75" fill="#7c1f9a" stroke="#3a0a4a" stroke-width="0.45"/>
<circle cx="441.1" cy="442.3" r="1.75" fill="#7c1f9a" stroke="#3a0a4a" stroke-width="0.45"/>
<circle cx="433.8" cy="446.5" r="1.75" fill="#7c1f9a" stroke="#3a0a4a" stroke-width="0.45"/>
<circle cx="436.4" cy="446.5" r="1.75" fill="#7c1f9a" stroke="#3a0a4a" stroke-width="0.45"/>
<circle cx="439.0" cy="446.5" r="1.75" fill="#7c1f9a" stroke="#3a0a4a" stroke-width="0.45"/>
<circle cx="441.7" cy="446.5" r="1.75" fill="#7c1f9a" stroke="#3a0a4a" stroke-width="0.45"/>
<circle cx="443.8" cy="447.1" r="1.75" fill="#7c1f9a" stroke="#3a0a4a" stroke-width="0.45"/>
<circle cx="434.3" cy="449.7" r="1.75" fill="#7c1f9a" stroke="#3a0a4a" stroke-width="0.45"/>
<circle cx="438.5" cy="450.2" r="1.75" fill="#7c1f9a" stroke="#3a0a4a" stroke-width="0.45"/>
<circle cx="441.1" cy="449.7" r="1.75" fill="#7c1f9a" stroke="#3a0a4a" stroke-width="0.45"/>
<circle cx="446.4" cy="449.2" r="1.75" fill="#7c1f9a" stroke="#3a0a4a" stroke-width="0.45"/>
<circle cx="436.4" cy="452.9" r="1.75" fill="#7c1f9a" stroke="#3a0a4a" stroke-width="0.45"/>
<circle cx="439.0" cy="452.9" r="1.75" fill="#7c1f9a" stroke="#3a0a4a" stroke-width="0.45"/>
<circle cx="441.7" cy="453.2" r="1.75" fill="#7c1f9a" stroke="#3a0a4a" stroke-width="0.45"/>
<circle cx="443.8" cy="451.8" r="1.75" fill="#7c1f9a" stroke="#3a0a4a" stroke-width="0.45"/>
<circle cx="441.1" cy="457.1" r="1.75" fill="#7c1f9a" stroke="#3a0a4a" stroke-width="0.45"/>
<circle cx="438.5" cy="458.8" r="1.75" fill="#7c1f9a" stroke="#3a0a4a" stroke-width="0.45"/>
<circle cx="460.6" cy="437.6" r="1.75" fill="#58b843" stroke="#2a5a20" stroke-width="0.45"/>
<circle cx="466.4" cy="437.4" r="1.75" fill="#58b843" stroke="#2a5a20" stroke-width="0.45"/>
<circle cx="463.7" cy="439.7" r="1.75" fill="#58b843" stroke="#2a5a20" stroke-width="0.45"/>
<circle cx="459.0" cy="443.9" r="1.75" fill="#58b843" stroke="#2a5a20" stroke-width="0.45"/>
<circle cx="461.6" cy="442.9" r="1.75" fill="#58b843" stroke="#2a5a20" stroke-width="0.45"/>
<circle cx="464.8" cy="442.3" r="1.75" fill="#58b843" stroke="#2a5a20" stroke-width="0.45"/>
<circle cx="467.9" cy="446.0" r="1.75" fill="#58b843" stroke="#2a5a20" stroke-width="0.45"/>
<circle cx="460.1" cy="447.1" r="1.75" fill="#58b843" stroke="#2a5a20" stroke-width="0.45"/>
<circle cx="462.7" cy="446.5" r="1.75" fill="#58b843" stroke="#2a5a20" stroke-width="0.45"/>
<circle cx="465.8" cy="447.1" r="1.75" fill="#58b843" stroke="#2a5a20" stroke-width="0.45"/>
<circle cx="461.1" cy="448.6" r="1.75" fill="#58b843" stroke="#2a5a20" stroke-width="0.45"/>
<circle cx="464.3" cy="449.2" r="1.75" fill="#58b843" stroke="#2a5a20" stroke-width="0.45"/>
<circle cx="462.7" cy="450.8" r="1.75" fill="#58b843" stroke="#2a5a20" stroke-width="0.45"/>
<circle cx="457.4" cy="456.3" r="1.75" fill="#58b843" stroke="#2a5a20" stroke-width="0.45"/>
<circle cx="460.6" cy="457.6" r="1.75" fill="#58b843" stroke="#2a5a20" stroke-width="0.45"/>
<circle cx="463.2" cy="457.1" r="1.75" fill="#58b843" stroke="#2a5a20" stroke-width="0.45"/>
<circle cx="465.8" cy="458.6" r="1.75" fill="#58b843" stroke="#2a5a20" stroke-width="0.45"/>
<circle cx="469.5" cy="457.1" r="1.75" fill="#58b843" stroke="#2a5a20" stroke-width="0.45"/>
<circle cx="467.9" cy="458.6" r="1.75" fill="#58b843" stroke="#2a5a20" stroke-width="0.45"/>
<circle cx="464.3" cy="460.7" r="1.75" fill="#58b843" stroke="#2a5a20" stroke-width="0.45"/>
<circle cx="459.5" cy="465.5" r="1.75" fill="#58b843" stroke="#2a5a20" stroke-width="0.45"/>
<circle cx="462.7" cy="464.9" r="1.75" fill="#58b843" stroke="#2a5a20" stroke-width="0.45"/>
<circle cx="465.3" cy="464.4" r="1.75" fill="#58b843" stroke="#2a5a20" stroke-width="0.45"/>
<circle cx="467.9" cy="466.5" r="1.75" fill="#58b843" stroke="#2a5a20" stroke-width="0.45"/>
<circle cx="460.6" cy="468.1" r="1.75" fill="#58b843" stroke="#2a5a20" stroke-width="0.45"/>
<circle cx="463.7" cy="467.6" r="1.75" fill="#58b843" stroke="#2a5a20" stroke-width="0.45"/>
<circle cx="466.4" cy="468.6" r="1.75" fill="#58b843" stroke="#2a5a20" stroke-width="0.45"/>
<circle cx="461.1" cy="471.2" r="1.75" fill="#58b843" stroke="#2a5a20" stroke-width="0.45"/>
<circle cx="464.3" cy="470.7" r="1.75" fill="#58b843" stroke="#2a5a20" stroke-width="0.45"/>
<circle cx="463.2" cy="473.9" r="1.75" fill="#58b843" stroke="#2a5a20" stroke-width="0.45"/>
<circle cx="463.5" cy="482.1" r="1.75" fill="#58b843" stroke="#2a5a20" stroke-width="0.45"/>
<circle cx="456.2" cy="456.0" r="1.75" fill="#58b843" stroke="#2a5a20" stroke-width="0.45"/>
<circle cx="486.9" cy="439.7" r="1.75" fill="#ea2a2a" stroke="#7a1010" stroke-width="0.45"/>
<circle cx="486.9" cy="446.0" r="1.75" fill="#ea2a2a" stroke="#7a1010" stroke-width="0.45"/>
<circle cx="486.9" cy="451.8" r="1.75" fill="#ea2a2a" stroke="#7a1010" stroke-width="0.45"/>
<circle cx="481.1" cy="459.7" r="1.75" fill="#ea2a2a" stroke="#7a1010" stroke-width="0.45"/>
<circle cx="484.8" cy="458.6" r="1.75" fill="#ea2a2a" stroke="#7a1010" stroke-width="0.45"/>
<circle cx="487.9" cy="460.2" r="1.75" fill="#ea2a2a" stroke="#7a1010" stroke-width="0.45"/>
<circle cx="492.1" cy="460.2" r="1.75" fill="#ea2a2a" stroke="#7a1010" stroke-width="0.45"/>
<circle cx="483.2" cy="462.8" r="1.75" fill="#ea2a2a" stroke="#7a1010" stroke-width="0.45"/>
<circle cx="486.3" cy="462.3" r="1.75" fill="#ea2a2a" stroke="#7a1010" stroke-width="0.45"/>
<circle cx="490.5" cy="461.8" r="1.75" fill="#ea2a2a" stroke="#7a1010" stroke-width="0.45"/>
<circle cx="484.8" cy="466.0" r="1.75" fill="#ea2a2a" stroke="#7a1010" stroke-width="0.45"/>
<circle cx="489.0" cy="468.1" r="1.75" fill="#ea2a2a" stroke="#7a1010" stroke-width="0.45"/>
<circle cx="485.3" cy="469.7" r="1.75" fill="#ea2a2a" stroke="#7a1010" stroke-width="0.45"/>
<circle cx="487.4" cy="469.7" r="1.75" fill="#ea2a2a" stroke="#7a1010" stroke-width="0.45"/>
<circle cx="489.0" cy="472.8" r="1.75" fill="#ea2a2a" stroke="#7a1010" stroke-width="0.45"/>
<circle cx="484.8" cy="474.4" r="1.75" fill="#ea2a2a" stroke="#7a1010" stroke-width="0.45"/>
<circle cx="488.5" cy="476.5" r="1.75" fill="#ea2a2a" stroke="#7a1010" stroke-width="0.45"/>
<circle cx="485.6" cy="482.3" r="1.75" fill="#ea2a2a" stroke="#7a1010" stroke-width="0.45"/>
<circle cx="488.1" cy="482.0" r="1.75" fill="#ea2a2a" stroke="#7a1010" stroke-width="0.45"/>
<circle cx="487.1" cy="486.5" r="1.75" fill="#ea2a2a" stroke="#7a1010" stroke-width="0.45"/>
<circle cx="484.8" cy="491.3" r="1.75" fill="#ea2a2a" stroke="#7a1010" stroke-width="0.45"/>
<circle cx="489.0" cy="492.9" r="1.75" fill="#ea2a2a" stroke="#7a1010" stroke-width="0.45"/>
<circle cx="484.8" cy="496.5" r="1.75" fill="#ea2a2a" stroke="#7a1010" stroke-width="0.45"/>
<circle cx="487.1" cy="496.0" r="1.75" fill="#ea2a2a" stroke="#7a1010" stroke-width="0.45"/>
<circle cx="489.5" cy="498.4" r="1.75" fill="#ea2a2a" stroke="#7a1010" stroke-width="0.45"/>
<circle cx="486.9" cy="500.2" r="1.75" fill="#ea2a2a" stroke="#7a1010" stroke-width="0.45"/>
<circle cx="487.1" cy="512.8" r="1.75" fill="#ea2a2a" stroke="#7a1010" stroke-width="0.45"/>
<path d="M440.1,398.0 L440.1,367.3 L487.1,367.3 L487.1,373.6" fill="none" stroke="#444" stroke-width="0.9"/>
<text x="463.5" y="361.4" font-size="9.3" text-anchor="middle" fill="#111" color="#111" >&lt;0.0001</text>
<path d="M463.4,398.0 L463.4,391.8 L487.1,391.8 L487.1,432.5" fill="none" stroke="#444" stroke-width="0.9"/>
<text x="475.0" y="386.3" font-size="9.3" text-anchor="middle" fill="#111" color="#111" >0.0017</text>
<path d="M440.1,423.0 L440.1,417.0 L463.4,417.0 L463.4,430.0" fill="none" stroke="#444" stroke-width="0.9"/>
<text x="451.7" y="410.8" font-size="9.3" text-anchor="middle" fill="#111" color="#111" >0.0073</text>
<line x1="543.5" y1="400.9" x2="543.5" y2="517.4" stroke="#333" stroke-width="1.1"/>
<line x1="543.5" y1="517.4" x2="621.5" y2="517.4" stroke="#333" stroke-width="1.1"/>
<line x1="539.3" y1="400.9" x2="543.5" y2="400.9" stroke="#333" stroke-width="1.1"/>
<text x="538.0" y="403.9" font-size="8.6" text-anchor="end" fill="#111" color="#111" >10</text>
<line x1="539.3" y1="430.0" x2="543.5" y2="430.0" stroke="#333" stroke-width="1.1"/>
<text x="538.0" y="433.0" font-size="8.6" text-anchor="end" fill="#111" color="#111" >5</text>
<line x1="539.3" y1="459.1" x2="543.5" y2="459.1" stroke="#333" stroke-width="1.1"/>
<text x="538.0" y="462.1" font-size="8.6" text-anchor="end" fill="#111" color="#111" >0</text>
<line x1="539.3" y1="488.3" x2="543.5" y2="488.3" stroke="#333" stroke-width="1.1"/>
<text x="538.0" y="491.3" font-size="8.6" text-anchor="end" fill="#111" color="#111" >-5</text>
<line x1="539.3" y1="517.4" x2="543.5" y2="517.4" stroke="#333" stroke-width="1.1"/>
<text x="538.0" y="520.4" font-size="8.6" text-anchor="end" fill="#111" color="#111" >-10</text>
<line x1="559.3" y1="517.4" x2="559.3" y2="522.0" stroke="#333" stroke-width="1.1"/>
<line x1="582.6" y1="517.4" x2="582.6" y2="522.0" stroke="#333" stroke-width="1.1"/>
<line x1="606.1" y1="517.4" x2="606.1" y2="522.0" stroke="#333" stroke-width="1.1"/>
<line x1="546.56" y1="459.2" x2="621.5" y2="459.2" stroke="#222" stroke-width="1.2" stroke-dasharray="1.2,2.3"/>
<text x="0" y="0" font-size="9.6" fill="#111" color="#111" text-anchor="middle" transform="translate(518.9,459.45) rotate(-90)">Scores PC2</text>
<line x1="551.6" y1="470.3" x2="566.9" y2="470.3" stroke="#111" stroke-width="1.2"/>
<line x1="598.7" y1="463.7" x2="613.4" y2="463.7" stroke="#111" stroke-width="1.2"/>
<line x1="575.5" y1="449.0" x2="590.5" y2="449.0" stroke="#111" stroke-width="1.2"/>
<circle cx="557.9" cy="441.3" r="1.75" fill="#7c1f9a" stroke="#3a0a4a" stroke-width="0.45"/>
<circle cx="560.9" cy="441.1" r="1.75" fill="#7c1f9a" stroke="#3a0a4a" stroke-width="0.45"/>
<circle cx="560.5" cy="450.6" r="1.75" fill="#7c1f9a" stroke="#3a0a4a" stroke-width="0.45"/>
<circle cx="557.9" cy="452.8" r="1.75" fill="#7c1f9a" stroke="#3a0a4a" stroke-width="0.45"/>
<circle cx="560.5" cy="454.2" r="1.75" fill="#7c1f9a" stroke="#3a0a4a" stroke-width="0.45"/>
<circle cx="558.1" cy="457.2" r="1.75" fill="#7c1f9a" stroke="#3a0a4a" stroke-width="0.45"/>
<circle cx="557.9" cy="461.0" r="1.75" fill="#7c1f9a" stroke="#3a0a4a" stroke-width="0.45"/>
<circle cx="560.5" cy="462.6" r="1.75" fill="#7c1f9a" stroke="#3a0a4a" stroke-width="0.45"/>
<circle cx="558.1" cy="465.9" r="1.75" fill="#7c1f9a" stroke="#3a0a4a" stroke-width="0.45"/>
<circle cx="560.5" cy="466.5" r="1.75" fill="#7c1f9a" stroke="#3a0a4a" stroke-width="0.45"/>
<circle cx="557.9" cy="468.3" r="1.75" fill="#7c1f9a" stroke="#3a0a4a" stroke-width="0.45"/>
<circle cx="563.1" cy="468.3" r="1.75" fill="#7c1f9a" stroke="#3a0a4a" stroke-width="0.45"/>
<circle cx="560.5" cy="470.8" r="1.75" fill="#7c1f9a" stroke="#3a0a4a" stroke-width="0.45"/>
<circle cx="557.9" cy="472.5" r="1.75" fill="#7c1f9a" stroke="#3a0a4a" stroke-width="0.45"/>
<circle cx="555.4" cy="478.0" r="1.75" fill="#7c1f9a" stroke="#3a0a4a" stroke-width="0.45"/>
<circle cx="557.9" cy="476.3" r="1.75" fill="#7c1f9a" stroke="#3a0a4a" stroke-width="0.45"/>
<circle cx="553.2" cy="479.6" r="1.75" fill="#7c1f9a" stroke="#3a0a4a" stroke-width="0.45"/>
<circle cx="560.3" cy="479.6" r="1.75" fill="#7c1f9a" stroke="#3a0a4a" stroke-width="0.45"/>
<circle cx="565.3" cy="479.4" r="1.75" fill="#7c1f9a" stroke="#3a0a4a" stroke-width="0.45"/>
<circle cx="556.0" cy="481.8" r="1.75" fill="#7c1f9a" stroke="#3a0a4a" stroke-width="0.45"/>
<circle cx="558.1" cy="480.7" r="1.75" fill="#7c1f9a" stroke="#3a0a4a" stroke-width="0.45"/>
<circle cx="563.1" cy="481.8" r="1.75" fill="#7c1f9a" stroke="#3a0a4a" stroke-width="0.45"/>
<circle cx="555.4" cy="483.4" r="1.75" fill="#7c1f9a" stroke="#3a0a4a" stroke-width="0.45"/>
<circle cx="560.3" cy="484.0" r="1.75" fill="#7c1f9a" stroke="#3a0a4a" stroke-width="0.45"/>
<circle cx="557.9" cy="486.7" r="1.75" fill="#7c1f9a" stroke="#3a0a4a" stroke-width="0.45"/>
<circle cx="582.8" cy="422.1" r="1.75" fill="#2ee82e" stroke="#1a6a1a" stroke-width="0.45"/>
<circle cx="582.8" cy="427.6" r="1.75" fill="#2ee82e" stroke="#1a6a1a" stroke-width="0.45"/>
<circle cx="581.1" cy="430.9" r="1.75" fill="#2ee82e" stroke="#1a6a1a" stroke-width="0.45"/>
<circle cx="583.9" cy="432.5" r="1.75" fill="#2ee82e" stroke="#1a6a1a" stroke-width="0.45"/>
<circle cx="582.8" cy="435.3" r="1.75" fill="#2ee82e" stroke="#1a6a1a" stroke-width="0.45"/>
<circle cx="579.8" cy="440.7" r="1.75" fill="#2ee82e" stroke="#1a6a1a" stroke-width="0.45"/>
<circle cx="582.8" cy="441.8" r="1.75" fill="#2ee82e" stroke="#1a6a1a" stroke-width="0.45"/>
<circle cx="586.1" cy="441.8" r="1.75" fill="#2ee82e" stroke="#1a6a1a" stroke-width="0.45"/>
<circle cx="576.8" cy="447.8" r="1.75" fill="#2ee82e" stroke="#1a6a1a" stroke-width="0.45"/>
<circle cx="580.0" cy="447.8" r="1.75" fill="#2ee82e" stroke="#1a6a1a" stroke-width="0.45"/>
<circle cx="582.8" cy="446.8" r="1.75" fill="#2ee82e" stroke="#1a6a1a" stroke-width="0.45"/>
<circle cx="587.2" cy="447.3" r="1.75" fill="#2ee82e" stroke="#1a6a1a" stroke-width="0.45"/>
<circle cx="589.3" cy="448.4" r="1.75" fill="#2ee82e" stroke="#1a6a1a" stroke-width="0.45"/>
<circle cx="577.8" cy="453.3" r="1.75" fill="#2ee82e" stroke="#1a6a1a" stroke-width="0.45"/>
<circle cx="581.1" cy="452.2" r="1.75" fill="#2ee82e" stroke="#1a6a1a" stroke-width="0.45"/>
<circle cx="584.4" cy="452.8" r="1.75" fill="#2ee82e" stroke="#1a6a1a" stroke-width="0.45"/>
<circle cx="582.8" cy="450.0" r="1.75" fill="#2ee82e" stroke="#1a6a1a" stroke-width="0.45"/>
<circle cx="587.2" cy="451.1" r="1.75" fill="#2ee82e" stroke="#1a6a1a" stroke-width="0.45"/>
<circle cx="579.5" cy="450.0" r="1.75" fill="#2ee82e" stroke="#1a6a1a" stroke-width="0.45"/>
<circle cx="583.3" cy="456.1" r="1.75" fill="#2ee82e" stroke="#1a6a1a" stroke-width="0.45"/>
<circle cx="582.8" cy="459.3" r="1.75" fill="#2ee82e" stroke="#1a6a1a" stroke-width="0.45"/>
<circle cx="582.2" cy="463.2" r="1.75" fill="#2ee82e" stroke="#1a6a1a" stroke-width="0.45"/>
<circle cx="582.8" cy="471.4" r="1.75" fill="#2ee82e" stroke="#1a6a1a" stroke-width="0.45"/>
<circle cx="585.5" cy="444.5" r="1.75" fill="#2ee82e" stroke="#1a6a1a" stroke-width="0.45"/>
<circle cx="579.0" cy="444.8" r="1.75" fill="#2ee82e" stroke="#1a6a1a" stroke-width="0.45"/>
<circle cx="605.0" cy="445.1" r="1.75" fill="#ee1a1a" stroke="#7a1010" stroke-width="0.45"/>
<circle cx="607.6" cy="445.1" r="1.75" fill="#ee1a1a" stroke="#7a1010" stroke-width="0.45"/>
<circle cx="606.1" cy="450.0" r="1.75" fill="#ee1a1a" stroke="#7a1010" stroke-width="0.45"/>
<circle cx="602.5" cy="454.2" r="1.75" fill="#ee1a1a" stroke="#7a1010" stroke-width="0.45"/>
<circle cx="607.4" cy="454.2" r="1.75" fill="#ee1a1a" stroke="#7a1010" stroke-width="0.45"/>
<circle cx="599.7" cy="457.2" r="1.75" fill="#ee1a1a" stroke="#7a1010" stroke-width="0.45"/>
<circle cx="602.5" cy="458.8" r="1.75" fill="#ee1a1a" stroke="#7a1010" stroke-width="0.45"/>
<circle cx="605.0" cy="459.0" r="1.75" fill="#ee1a1a" stroke="#7a1010" stroke-width="0.45"/>
<circle cx="609.6" cy="459.0" r="1.75" fill="#ee1a1a" stroke="#7a1010" stroke-width="0.45"/>
<circle cx="612.3" cy="461.5" r="1.75" fill="#ee1a1a" stroke="#7a1010" stroke-width="0.45"/>
<circle cx="599.7" cy="461.5" r="1.75" fill="#ee1a1a" stroke="#7a1010" stroke-width="0.45"/>
<circle cx="602.5" cy="463.2" r="1.75" fill="#ee1a1a" stroke="#7a1010" stroke-width="0.45"/>
<circle cx="605.0" cy="463.7" r="1.75" fill="#ee1a1a" stroke="#7a1010" stroke-width="0.45"/>
<circle cx="607.4" cy="463.7" r="1.75" fill="#ee1a1a" stroke="#7a1010" stroke-width="0.45"/>
<circle cx="610.1" cy="463.7" r="1.75" fill="#ee1a1a" stroke="#7a1010" stroke-width="0.45"/>
<circle cx="602.5" cy="465.9" r="1.75" fill="#ee1a1a" stroke="#7a1010" stroke-width="0.45"/>
<circle cx="605.0" cy="468.7" r="1.75" fill="#ee1a1a" stroke="#7a1010" stroke-width="0.45"/>
<circle cx="609.6" cy="468.7" r="1.75" fill="#ee1a1a" stroke="#7a1010" stroke-width="0.45"/>
<circle cx="612.3" cy="467.6" r="1.75" fill="#ee1a1a" stroke="#7a1010" stroke-width="0.45"/>
<circle cx="602.5" cy="470.8" r="1.75" fill="#ee1a1a" stroke="#7a1010" stroke-width="0.45"/>
<circle cx="605.0" cy="473.0" r="1.75" fill="#ee1a1a" stroke="#7a1010" stroke-width="0.45"/>
<circle cx="607.4" cy="473.0" r="1.75" fill="#ee1a1a" stroke="#7a1010" stroke-width="0.45"/>
<circle cx="602.5" cy="475.8" r="1.75" fill="#ee1a1a" stroke="#7a1010" stroke-width="0.45"/>
<circle cx="605.0" cy="476.3" r="1.75" fill="#ee1a1a" stroke="#7a1010" stroke-width="0.45"/>
<circle cx="607.6" cy="477.4" r="1.75" fill="#ee1a1a" stroke="#7a1010" stroke-width="0.45"/>
<circle cx="610.1" cy="478.3" r="1.75" fill="#ee1a1a" stroke="#7a1010" stroke-width="0.45"/>
<circle cx="605.0" cy="480.1" r="1.75" fill="#ee1a1a" stroke="#7a1010" stroke-width="0.45"/>
<circle cx="607.6" cy="480.7" r="1.75" fill="#ee1a1a" stroke="#7a1010" stroke-width="0.45"/>
<circle cx="606.1" cy="500.8" r="1.75" fill="#ee1a1a" stroke="#7a1010" stroke-width="0.45"/>
<path d="M559.4,390.0 L559.4,358.7 L606.3,358.7 L606.3,365.4" fill="none" stroke="#444" stroke-width="0.9"/>
<text x="582.5" y="353.0" font-size="9.3" text-anchor="middle" fill="#111" color="#111" >&lt;0.0001</text>
<path d="M582.6,390.4 L582.6,383.8 L606.3,383.8 L606.3,437.9" fill="none" stroke="#444" stroke-width="0.9"/>
<text x="594.5" y="377.7" font-size="9.3" text-anchor="middle" fill="#111" color="#111" >&lt;0.0001</text>
<path d="M559.4,433.5 L559.4,408.6 L582.6,408.6 L582.6,414.6" fill="none" stroke="#444" stroke-width="0.9"/>
<text x="571.2" y="402.4" font-size="9.3" text-anchor="middle" fill="#111" color="#111" >&lt;0.0001</text>
<text x="0.4" y="555.2" font-size="10.5" text-anchor="start" fill="#111" color="#111" >D</text>
<text x="172.5" y="574.9" font-size="15.4" text-anchor="middle" fill="#111" color="#111" >Loadings</text>
<line x1="96.6" y1="660.2" x2="250.4" y2="660.2" stroke="#111" stroke-width="1.6" stroke-dasharray="1.6,3.17"/>
<line x1="171.7" y1="585.2" x2="171.7" y2="739.05" stroke="#111" stroke-width="1.7" stroke-dasharray="1.8,2.88"/>
<circle cx="115.5" cy="649.5" r="3.1" fill="#0a14f0"/>
<circle cx="142.5" cy="629.0" r="3.1" fill="#0a14f0"/>
<circle cx="155.4" cy="631.3" r="3.1" fill="#0a14f0"/>
<circle cx="138.4" cy="643.7" r="3.1" fill="#0a14f0"/>
<circle cx="135.4" cy="653.5" r="3.1" fill="#0a14f0"/>
<circle cx="138.6" cy="654.6" r="3.1" fill="#0a14f0"/>
<circle cx="127.4" cy="657.2" r="3.1" fill="#0a14f0"/>
<circle cx="133.3" cy="660.9" r="3.1" fill="#0a14f0"/>
<circle cx="131.9" cy="664.4" r="3.1" fill="#0a14f0"/>
<circle cx="126.8" cy="667.4" r="3.1" fill="#0a14f0"/>
<circle cx="125.8" cy="670.5" r="3.1" fill="#0a14f0"/>
<circle cx="130.9" cy="671.5" r="3.1" fill="#0a14f0"/>
<circle cx="137.4" cy="671.9" r="3.1" fill="#0a14f0"/>
<circle cx="124.3" cy="674.6" r="3.1" fill="#0a14f0"/>
<circle cx="124.7" cy="677.7" r="3.1" fill="#0a14f0"/>
<circle cx="132.5" cy="679.3" r="3.1" fill="#0a14f0"/>
<circle cx="123.7" cy="681.7" r="3.1" fill="#0a14f0"/>
<circle cx="147.6" cy="662.3" r="3.1" fill="#0a14f0"/>
<circle cx="160.5" cy="658.2" r="3.1" fill="#0a14f0"/>
<circle cx="157.4" cy="663.4" r="3.1" fill="#0a14f0"/>
<circle cx="155.8" cy="665.8" r="3.1" fill="#0a14f0"/>
<circle cx="157.0" cy="671.9" r="3.1" fill="#0a14f0"/>
<circle cx="149.3" cy="676.6" r="3.1" fill="#0a14f0"/>
<circle cx="163.6" cy="677.3" r="3.1" fill="#0a14f0"/>
<circle cx="169.1" cy="669.9" r="3.1" fill="#0a14f0"/>
<circle cx="168.3" cy="638.8" r="3.1" fill="#0a14f0"/>
<circle cx="173.4" cy="622.1" r="3.1" fill="#0a14f0"/>
<circle cx="183.0" cy="636.8" r="3.1" fill="#0a14f0"/>
<circle cx="184.4" cy="653.8" r="3.1" fill="#0a14f0"/>
<circle cx="184.4" cy="664.4" r="3.1" fill="#0a14f0"/>
<circle cx="189.7" cy="660.9" r="3.1" fill="#0a14f0"/>
<circle cx="195.7" cy="624.5" r="3.1" fill="#0a14f0"/>
<circle cx="196.3" cy="637.8" r="3.1" fill="#0a14f0"/>
<circle cx="197.9" cy="640.3" r="3.1" fill="#0a14f0"/>
<circle cx="215.1" cy="650.1" r="3.1" fill="#0a14f0"/>
<circle cx="215.7" cy="651.5" r="3.1" fill="#0a14f0"/>
<circle cx="212.0" cy="659.7" r="3.1" fill="#0a14f0"/>
<circle cx="215.1" cy="664.4" r="3.1" fill="#0a14f0"/>
<circle cx="216.7" cy="671.9" r="3.1" fill="#0a14f0"/>
<circle cx="212.0" cy="675.0" r="3.1" fill="#0a14f0"/>
<circle cx="202.0" cy="676.6" r="3.1" fill="#0a14f0"/>
<circle cx="204.9" cy="675.2" r="3.1" fill="#0a14f0"/>
<circle cx="194.2" cy="673.2" r="3.1" fill="#0a14f0"/>
<circle cx="189.7" cy="674.6" r="3.1" fill="#0a14f0"/>
<circle cx="186.1" cy="677.3" r="3.1" fill="#0a14f0"/>
<circle cx="180.9" cy="679.7" r="3.1" fill="#0a14f0"/>
<circle cx="187.7" cy="683.4" r="3.1" fill="#0a14f0"/>
<circle cx="193.2" cy="679.7" r="3.1" fill="#0a14f0"/>
<circle cx="190.1" cy="677.3" r="3.1" fill="#0a14f0"/>
<circle cx="203.4" cy="689.3" r="3.1" fill="#0a14f0"/>
<circle cx="141.1" cy="684.8" r="3.1" fill="#0a14f0"/>
<circle cx="145.2" cy="684.8" r="3.1" fill="#0a14f0"/>
<circle cx="150.3" cy="684.8" r="3.1" fill="#0a14f0"/>
<circle cx="155.0" cy="682.8" r="3.1" fill="#0a14f0"/>
<circle cx="160.5" cy="690.3" r="3.1" fill="#0a14f0"/>
<circle cx="164.0" cy="687.9" r="3.1" fill="#0a14f0"/>
<circle cx="161.5" cy="697.1" r="3.1" fill="#0a14f0"/>
<circle cx="170.7" cy="694.0" r="3.1" fill="#0a14f0"/>
<circle cx="174.8" cy="695.0" r="3.1" fill="#0a14f0"/>
<circle cx="178.9" cy="694.0" r="3.1" fill="#0a14f0"/>
<circle cx="180.9" cy="702.2" r="3.1" fill="#0a14f0"/>
<circle cx="184.0" cy="706.7" r="3.1" fill="#0a14f0"/>
<circle cx="189.7" cy="697.7" r="3.1" fill="#0a14f0"/>
<circle cx="191.8" cy="703.2" r="3.1" fill="#0a14f0"/>
<circle cx="194.6" cy="705.3" r="3.1" fill="#0a14f0"/>
<circle cx="175.8" cy="697.1" r="3.1" fill="#0a14f0"/>
<circle cx="134.9" cy="684.8" r="3.1" fill="#0a14f0"/>
<circle cx="129.8" cy="676.5" r="3.1" fill="#0a14f0"/>
<rect x="92.9" y="581.4" width="157.5" height="157.64999999999998" fill="none" stroke="#222" stroke-width="1.1"/>
<line x1="86.4" y1="581.4" x2="92.9" y2="581.4" stroke="#222" stroke-width="1.1"/>
<text x="84.1" y="585.6" font-size="11.6" text-anchor="end" fill="#111" color="#111" >1.0</text>
<line x1="86.4" y1="620.8" x2="92.9" y2="620.8" stroke="#222" stroke-width="1.1"/>
<text x="84.1" y="625.0" font-size="11.6" text-anchor="end" fill="#111" color="#111" >0.5</text>
<line x1="86.4" y1="660.2" x2="92.9" y2="660.2" stroke="#222" stroke-width="1.1"/>
<text x="84.1" y="664.4" font-size="11.6" text-anchor="end" fill="#111" color="#111" >0.0</text>
<line x1="86.4" y1="699.6" x2="92.9" y2="699.6" stroke="#222" stroke-width="1.1"/>
<text x="84.1" y="703.8" font-size="11.6" text-anchor="end" fill="#111" color="#111" >-0.5</text>
<line x1="86.4" y1="739.0" x2="92.9" y2="739.0" stroke="#222" stroke-width="1.1"/>
<text x="84.1" y="743.2" font-size="11.6" text-anchor="end" fill="#111" color="#111" >-1.0</text>
<line x1="92.9" y1="739.05" x2="92.9" y2="745.55" stroke="#222" stroke-width="1.1"/>
<text x="92.9" y="756.6" font-size="11.6" text-anchor="middle" fill="#111" color="#111" >-1.0</text>
<line x1="132.3" y1="739.05" x2="132.3" y2="745.55" stroke="#222" stroke-width="1.1"/>
<text x="132.3" y="756.6" font-size="11.6" text-anchor="middle" fill="#111" color="#111" >-0.5</text>
<line x1="171.7" y1="739.05" x2="171.7" y2="745.55" stroke="#222" stroke-width="1.1"/>
<text x="171.7" y="756.6" font-size="11.6" text-anchor="middle" fill="#111" color="#111" >0.0</text>
<line x1="211.0" y1="739.05" x2="211.0" y2="745.55" stroke="#222" stroke-width="1.1"/>
<text x="211.0" y="756.6" font-size="11.6" text-anchor="middle" fill="#111" color="#111" >0.5</text>
<line x1="250.4" y1="739.05" x2="250.4" y2="745.55" stroke="#222" stroke-width="1.1"/>
<text x="250.4" y="756.6" font-size="11.6" text-anchor="middle" fill="#111" color="#111" >1.0</text>
<text x="172.2" y="775.2" font-size="12.6" text-anchor="middle" fill="#111" color="#111" >PC1</text>
<text x="0" y="0" font-size="12.6" fill="#111" color="#111" text-anchor="middle" transform="translate(56.9,659.8) rotate(-90)">PC2</text>
<text x="172.8" y="617.4" font-size="8.2" text-anchor="start" fill="#111" color="#111" >Treg</text>
<text x="194.2" y="620.4" font-size="8.2" text-anchor="start" fill="#111" color="#111" >mDC</text>
<text x="97.2" y="635.8" font-size="8.2" text-anchor="start" fill="#111" color="#111" >Ki-67<tspan font-size="5" dy="-3">+</tspan></text>
<text x="97.2" y="643.9" font-size="8.2" text-anchor="start" fill="#111" color="#111" >B cells</text>
<text x="220.6" y="648.2" font-size="8.2" text-anchor="start" fill="#111" color="#111" >Na&#239;ve</text>
<text x="220.6" y="655.4" font-size="8.2" text-anchor="start" fill="#111" color="#111" >B cells</text>
<text x="218.6" y="668.2" font-size="8.2" text-anchor="start" fill="#111" color="#111" >HLA-DR gMFI cDC1</text>
<text x="217.7" y="682.0" font-size="8.2" text-anchor="start" fill="#111" color="#111" >IgG<tspan font-size="5" dy="-3">-</tspan><tspan dy="3">IgM</tspan><tspan font-size="5" dy="-3">+</tspan><tspan dy="3"> Memory B cells</tspan></text>
<text x="108.8" y="687.2" font-size="8.2" text-anchor="end" fill="#111" color="#111" >CX3CR1 gMFI DCs</text>
<text x="118.0" y="712.0" font-size="8.2" text-anchor="start" fill="#111" color="#111" >Plasmoblasts</text>
<text x="199.3" y="707.7" font-size="8.2" text-anchor="start" fill="#111" color="#111" >NK cells</text>
<text x="182.0" y="716.9" font-size="8.2" text-anchor="start" fill="#111" color="#111" >Eosinophils</text>
<line x1="109.8" y1="684.2" x2="117.2" y2="678.8" stroke="#111" stroke-width="1.4"/>
<path d="M120.6,676.4 L114.3,677.9 L117.4,682.2Z" fill="#111"/>
<line x1="123.5" y1="706.5" x2="123.5" y2="690.5" stroke="#111" stroke-width="1.4"/>
<path d="M123.5,686.6 L121.0,692.4 L126.0,692.4Z" fill="#111"/>
<text x="375.0" y="555.5" font-size="9.8" text-anchor="start" fill="#111" color="#111" >E</text>
<rect x="390.8" y="560.8" width="8.2" height="7.6" fill="#7479c0" stroke="#333" stroke-width="0.6"/>
<text x="403.4" y="568.3" font-size="8.5" text-anchor="start" fill="#111" color="#111" >Child</text>
<rect x="437.9" y="560.8" width="8.2" height="7.6" fill="#8dc64a" stroke="#333" stroke-width="0.6"/>
<text x="447.8" y="568.3" font-size="8.5" text-anchor="start" fill="#111" color="#111" >Mild</text>
<rect x="477.0" y="560.8" width="8.2" height="7.6" fill="#e8272e" stroke="#333" stroke-width="0.6"/>
<text x="488.0" y="568.3" font-size="8.5" text-anchor="start" fill="#111" color="#111" >Severe</text>
<rect x="391.1" y="598.5" width="53.1" height="56" fill="#ececec"/>
<rect x="444.2" y="598.5" width="94.6" height="56" fill="#cccdce"/>
<rect x="538.8" y="598.5" width="106.3" height="56" fill="#a9abac"/>
<path d="M398.48,653.10 L398.48,643.30 L401.44,643.30 L401.44,653.10 M395.53,653.10 L395.53,641.50 L399.96,641.50 L399.96,643.30 M392.58,653.10 L392.58,637.30 L397.75,637.30 L397.75,641.50 M404.39,653.10 L404.39,641.94 L407.34,641.94 L407.34,653.10 M416.20,653.10 L416.20,640.95 L419.16,640.95 L419.16,653.10 M413.25,653.10 L413.25,639.15 L417.68,639.15 L417.68,640.95 M410.30,653.10 L410.30,636.63 L415.47,636.63 L415.47,639.15 M405.87,641.94 L405.87,634.30 L412.88,634.30 L412.88,636.63 M428.02,653.10 L428.02,643.10 L430.97,643.10 L430.97,653.10 M425.07,653.10 L425.07,641.30 L429.50,641.30 L429.50,643.10 M422.11,653.10 L422.11,637.69 L427.28,637.69 L427.28,641.30 M436.88,653.10 L436.88,642.53 L439.83,642.53 L439.83,653.10 M438.36,642.53 L438.36,640.73 L442.79,640.73 L442.79,653.10 M433.93,653.10 L433.93,637.02 L440.57,637.02 L440.57,640.73 M424.70,637.69 L424.70,633.00 L437.25,633.00 L437.25,637.02 M409.37,634.30 L409.37,631.40 L430.97,631.40 L430.97,633.00 M395.16,637.30 L395.16,626.20 L420.17,626.20 L420.17,631.40 M451.65,653.10 L451.65,639.08 L454.60,639.08 L454.60,653.10 M448.69,653.10 L448.69,637.28 L453.12,637.28 L453.12,639.08 M450.91,637.28 L450.91,632.25 L457.55,632.25 L457.55,653.10 M445.74,653.10 L445.74,627.50 L454.23,627.50 L454.23,632.25 M466.41,653.10 L466.41,642.16 L469.37,642.16 L469.37,653.10 M463.46,653.10 L463.46,639.57 L467.89,639.57 L467.89,642.16 M460.51,653.10 L460.51,634.92 L465.68,634.92 L465.68,639.57 M472.32,653.10 L472.32,642.85 L475.27,642.85 L475.27,653.10 M473.80,642.85 L473.80,639.27 L478.23,639.27 L478.23,653.10 M476.01,639.27 L476.01,635.97 L481.18,635.97 L481.18,653.10 M478.60,635.97 L478.60,629.16 L484.13,629.16 L484.13,653.10 M463.09,634.92 L463.09,626.00 L481.37,626.00 L481.37,629.16 M449.99,627.50 L449.99,622.70 L472.23,622.70 L472.23,626.00 M487.09,653.10 L487.09,641.41 L490.04,641.41 L490.04,653.10 M488.57,641.41 L488.57,638.57 L493.00,638.57 L493.00,653.10 M490.78,638.57 L490.78,635.12 L495.95,635.12 L495.95,653.10 M493.36,635.12 L493.36,632.78 L498.90,632.78 L498.90,653.10 M501.86,653.10 L501.86,640.36 L504.81,640.36 L504.81,653.10 M496.13,632.78 L496.13,629.00 L503.33,629.00 L503.33,640.36 M507.76,653.10 L507.76,637.58 L510.72,637.58 L510.72,653.10 M509.24,637.58 L509.24,633.66 L513.67,633.66 L513.67,653.10 M516.62,653.10 L516.62,641.38 L519.58,641.38 L519.58,653.10 M522.53,653.10 L522.53,640.28 L525.48,640.28 L525.48,653.10 M524.01,640.28 L524.01,638.46 L528.44,638.46 L528.44,653.10 M518.10,641.38 L518.10,635.01 L526.22,635.01 L526.22,638.46 M511.45,633.66 L511.45,630.54 L522.16,630.54 L522.16,635.01 M534.34,653.10 L534.34,641.46 L537.30,641.46 L537.30,653.10 M531.39,653.10 L531.39,631.87 L535.82,631.87 L535.82,641.46 M516.81,630.54 L516.81,627.00 L533.61,627.00 L533.61,631.87 M499.73,629.00 L499.73,621.50 L525.21,621.50 L525.21,627.00 M461.11,622.70 L461.11,609.30 L512.47,609.30 L512.47,621.50 M540.25,653.10 L540.25,640.91 L543.20,640.91 L543.20,653.10 M546.16,653.10 L546.16,639.41 L549.11,639.41 L549.11,653.10 M541.73,640.91 L541.73,634.50 L547.63,634.50 L547.63,639.41 M552.07,653.10 L552.07,639.24 L555.02,639.24 L555.02,653.10 M560.93,653.10 L560.93,642.83 L563.88,642.83 L563.88,653.10 M566.83,653.10 L566.83,642.83 L569.79,642.83 L569.79,653.10 M562.40,642.83 L562.40,641.03 L568.31,641.03 L568.31,642.83 M557.97,653.10 L557.97,635.76 L565.36,635.76 L565.36,641.03 M553.54,639.24 L553.54,633.00 L561.66,633.00 L561.66,635.76 M544.68,634.50 L544.68,628.90 L557.60,628.90 L557.60,633.00 M575.69,653.10 L575.69,639.95 L578.65,639.95 L578.65,653.10 M572.74,653.10 L572.74,634.58 L577.17,634.58 L577.17,639.95 M581.60,653.10 L581.60,642.13 L584.55,642.13 L584.55,653.10 M583.08,642.13 L583.08,638.73 L587.51,638.73 L587.51,653.10 M596.37,653.10 L596.37,643.30 L599.32,643.30 L599.32,653.10 M593.41,653.10 L593.41,641.50 L597.84,641.50 L597.84,643.30 M595.63,641.50 L595.63,641.50 L602.27,641.50 L602.27,653.10 M590.46,653.10 L590.46,637.68 L598.95,637.68 L598.95,641.50 M585.29,638.73 L585.29,631.63 L594.71,631.63 L594.71,637.68 M574.95,634.58 L574.95,627.00 L590.00,627.00 L590.00,631.63 M608.18,653.10 L608.18,638.13 L611.13,638.13 L611.13,653.10 M609.66,638.13 L609.66,636.33 L614.09,636.33 L614.09,653.10 M605.23,653.10 L605.23,628.73 L611.87,628.73 L611.87,636.33 M617.04,653.10 L617.04,643.30 L620.00,643.30 L620.00,653.10 M618.52,643.30 L618.52,641.50 L622.95,641.50 L622.95,653.10 M620.73,641.50 L620.73,637.55 L625.90,637.55 L625.90,653.10 M628.86,653.10 L628.86,640.70 L631.81,640.70 L631.81,653.10 M637.72,653.10 L637.72,643.30 L640.67,643.30 L640.67,653.10 M639.19,643.30 L639.19,641.50 L643.62,641.50 L643.62,653.10 M634.76,653.10 L634.76,641.33 L641.41,641.33 L641.41,641.50 M630.33,640.70 L630.33,638.90 L638.09,638.90 L638.09,641.33 M623.32,637.55 L623.32,634.15 L634.21,634.15 L634.21,638.90 M608.55,628.73 L608.55,625.00 L628.76,625.00 L628.76,634.15 M582.48,627.00 L582.48,621.50 L618.66,621.50 L618.66,625.00 M551.14,628.90 L551.14,603.10 L600.57,603.10 L600.57,621.50 M486.79,609.30 L486.79,593.80 L575.85,593.80 L575.85,603.10 M407.67,626.20 L407.67,577.70 L531.32,577.70 L531.32,593.80" fill="none" stroke="#111" stroke-width="0.9"/>
<rect x="390.6" y="655.5" width="254.7" height="11" fill="#222"/>
<rect x="391.60" y="656.3" width="1.95" height="9.4" fill="#ea2a2f"/>
<rect x="394.55" y="656.3" width="1.95" height="9.4" fill="#8fc54a"/>
<rect x="397.51" y="656.3" width="1.95" height="9.4" fill="#6c70b8"/>
<rect x="400.46" y="656.3" width="1.95" height="9.4" fill="#8fc54a"/>
<rect x="403.41" y="656.3" width="1.95" height="9.4" fill="#6c70b8"/>
<rect x="406.37" y="656.3" width="1.95" height="9.4" fill="#6c70b8"/>
<rect x="409.32" y="656.3" width="1.95" height="9.4" fill="#8fc54a"/>
<rect x="412.27" y="656.3" width="1.95" height="9.4" fill="#6c70b8"/>
<rect x="415.23" y="656.3" width="1.95" height="9.4" fill="#8fc54a"/>
<rect x="418.18" y="656.3" width="1.95" height="9.4" fill="#8fc54a"/>
<rect x="421.13" y="656.3" width="1.95" height="9.4" fill="#8fc54a"/>
<rect x="424.09" y="656.3" width="1.95" height="9.4" fill="#8fc54a"/>
<rect x="427.04" y="656.3" width="1.95" height="9.4" fill="#8fc54a"/>
<rect x="430.00" y="656.3" width="1.95" height="9.4" fill="#8fc54a"/>
<rect x="432.95" y="656.3" width="1.95" height="9.4" fill="#8fc54a"/>
<rect x="435.90" y="656.3" width="1.95" height="9.4" fill="#8fc54a"/>
<rect x="438.86" y="656.3" width="1.95" height="9.4" fill="#8fc54a"/>
<rect x="441.81" y="656.3" width="1.95" height="9.4" fill="#8fc54a"/>
<rect x="444.76" y="656.3" width="1.95" height="9.4" fill="#6c70b8"/>
<rect x="447.72" y="656.3" width="1.95" height="9.4" fill="#6c70b8"/>
<rect x="450.67" y="656.3" width="1.95" height="9.4" fill="#8fc54a"/>
<rect x="453.62" y="656.3" width="1.95" height="9.4" fill="#ea2a2f"/>
<rect x="456.58" y="656.3" width="1.95" height="9.4" fill="#8fc54a"/>
<rect x="459.53" y="656.3" width="1.95" height="9.4" fill="#ea2a2f"/>
<rect x="462.48" y="656.3" width="1.95" height="9.4" fill="#6c70b8"/>
<rect x="465.44" y="656.3" width="1.95" height="9.4" fill="#8fc54a"/>
<rect x="468.39" y="656.3" width="1.95" height="9.4" fill="#6c70b8"/>
<rect x="471.34" y="656.3" width="1.95" height="9.4" fill="#6c70b8"/>
<rect x="474.30" y="656.3" width="1.95" height="9.4" fill="#6c70b8"/>
<rect x="477.25" y="656.3" width="1.95" height="9.4" fill="#6c70b8"/>
<rect x="480.20" y="656.3" width="1.95" height="9.4" fill="#8fc54a"/>
<rect x="483.16" y="656.3" width="1.95" height="9.4" fill="#ea2a2f"/>
<rect x="486.11" y="656.3" width="1.95" height="9.4" fill="#8fc54a"/>
<rect x="489.07" y="656.3" width="1.95" height="9.4" fill="#6c70b8"/>
<rect x="492.02" y="656.3" width="1.95" height="9.4" fill="#6c70b8"/>
<rect x="494.97" y="656.3" width="1.95" height="9.4" fill="#6c70b8"/>
<rect x="497.93" y="656.3" width="1.95" height="9.4" fill="#8fc54a"/>
<rect x="500.88" y="656.3" width="1.95" height="9.4" fill="#6c70b8"/>
<rect x="503.83" y="656.3" width="1.95" height="9.4" fill="#ea2a2f"/>
<rect x="506.79" y="656.3" width="1.95" height="9.4" fill="#6c70b8"/>
<rect x="509.74" y="656.3" width="1.95" height="9.4" fill="#6c70b8"/>
<rect x="512.69" y="656.3" width="1.95" height="9.4" fill="#6c70b8"/>
<rect x="515.65" y="656.3" width="1.95" height="9.4" fill="#6c70b8"/>
<rect x="518.60" y="656.3" width="1.95" height="9.4" fill="#6c70b8"/>
<rect x="521.55" y="656.3" width="1.95" height="9.4" fill="#6c70b8"/>
<rect x="524.51" y="656.3" width="1.95" height="9.4" fill="#8fc54a"/>
<rect x="527.46" y="656.3" width="1.95" height="9.4" fill="#8fc54a"/>
<rect x="530.41" y="656.3" width="1.95" height="9.4" fill="#6c70b8"/>
<rect x="533.37" y="656.3" width="1.95" height="9.4" fill="#6c70b8"/>
<rect x="536.32" y="656.3" width="1.95" height="9.4" fill="#ea2a2f"/>
<rect x="539.27" y="656.3" width="1.95" height="9.4" fill="#8fc54a"/>
<rect x="542.23" y="656.3" width="1.95" height="9.4" fill="#8fc54a"/>
<rect x="545.18" y="656.3" width="1.95" height="9.4" fill="#8fc54a"/>
<rect x="548.13" y="656.3" width="1.95" height="9.4" fill="#8fc54a"/>
<rect x="551.09" y="656.3" width="1.95" height="9.4" fill="#8fc54a"/>
<rect x="554.04" y="656.3" width="1.95" height="9.4" fill="#8fc54a"/>
<rect x="557.00" y="656.3" width="1.95" height="9.4" fill="#8fc54a"/>
<rect x="559.95" y="656.3" width="1.95" height="9.4" fill="#8fc54a"/>
<rect x="562.90" y="656.3" width="1.95" height="9.4" fill="#8fc54a"/>
<rect x="565.86" y="656.3" width="1.95" height="9.4" fill="#8fc54a"/>
<rect x="568.81" y="656.3" width="1.95" height="9.4" fill="#8fc54a"/>
<rect x="571.76" y="656.3" width="1.95" height="9.4" fill="#ea2a2f"/>
<rect x="574.72" y="656.3" width="1.95" height="9.4" fill="#ea2a2f"/>
<rect x="577.67" y="656.3" width="1.95" height="9.4" fill="#ea2a2f"/>
<rect x="580.62" y="656.3" width="1.95" height="9.4" fill="#ea2a2f"/>
<rect x="583.58" y="656.3" width="1.95" height="9.4" fill="#ea2a2f"/>
<rect x="586.53" y="656.3" width="1.95" height="9.4" fill="#ea2a2f"/>
<rect x="589.48" y="656.3" width="1.95" height="9.4" fill="#ea2a2f"/>
<rect x="592.44" y="656.3" width="1.95" height="9.4" fill="#ea2a2f"/>
<rect x="595.39" y="656.3" width="1.95" height="9.4" fill="#ea2a2f"/>
<rect x="598.34" y="656.3" width="1.95" height="9.4" fill="#ea2a2f"/>
<rect x="601.30" y="656.3" width="1.95" height="9.4" fill="#8fc54a"/>
<rect x="604.25" y="656.3" width="1.95" height="9.4" fill="#8fc54a"/>
<rect x="607.20" y="656.3" width="1.95" height="9.4" fill="#ea2a2f"/>
<rect x="610.16" y="656.3" width="1.95" height="9.4" fill="#ea2a2f"/>
<rect x="613.11" y="656.3" width="1.95" height="9.4" fill="#ea2a2f"/>
<rect x="616.07" y="656.3" width="1.95" height="9.4" fill="#ea2a2f"/>
<rect x="619.02" y="656.3" width="1.95" height="9.4" fill="#ea2a2f"/>
<rect x="621.97" y="656.3" width="1.95" height="9.4" fill="#ea2a2f"/>
<rect x="624.93" y="656.3" width="1.95" height="9.4" fill="#ea2a2f"/>
<rect x="627.88" y="656.3" width="1.95" height="9.4" fill="#ea2a2f"/>
<rect x="630.83" y="656.3" width="1.95" height="9.4" fill="#ea2a2f"/>
<rect x="633.79" y="656.3" width="1.95" height="9.4" fill="#ea2a2f"/>
<rect x="636.74" y="656.3" width="1.95" height="9.4" fill="#ea2a2f"/>
<rect x="639.69" y="656.3" width="1.95" height="9.4" fill="#ea2a2f"/>
<rect x="642.65" y="656.3" width="1.95" height="9.4" fill="#ea2a2f"/>
<line x1="390.6" y1="667.6" x2="444" y2="667.6" stroke="#ddd" stroke-width="0.8"/>
<line x1="444.2" y1="667.8" x2="538.6" y2="667.8" stroke="#c8c8c8" stroke-width="0.8"/>
<line x1="538.8" y1="667.8" x2="645.1" y2="667.8" stroke="#c8c8c8" stroke-width="0.8"/>
<line x1="417.6" y1="669" x2="417.6" y2="675" stroke="#777" stroke-width="0.8"/>
<path d="M417.60,681.60 A22.6,22.6 0 0 1 439.86,700.28 L431.09,701.82 A13.7,13.7 0 0 0 417.60,690.50Z" fill="#6c70b8"/>
<path d="M439.86,700.28 A22.6,22.6 0 1 1 409.87,682.96 L412.91,691.33 A13.7,13.7 0 1 0 431.09,701.82Z" fill="#8fc54a"/>
<path d="M409.87,682.96 A22.6,22.6 0 0 1 417.60,681.60 L417.60,690.50 A13.7,13.7 0 0 0 412.91,691.33Z" fill="#ea2a2f"/>
<line x1="417.6" y1="704.2" x2="417.60" y2="680.60" stroke="#fff" stroke-width="2.6"/>
<line x1="417.6" y1="704.2" x2="440.84" y2="700.10" stroke="#fff" stroke-width="2.6"/>
<line x1="417.6" y1="704.2" x2="409.53" y2="682.02" stroke="#fff" stroke-width="2.6"/>
<line x1="491.4" y1="669" x2="491.4" y2="675" stroke="#777" stroke-width="0.8"/>
<path d="M491.30,681.60 A22.6,22.6 0 1 1 478.74,722.99 L483.69,715.59 A13.7,13.7 0 1 0 491.30,690.50Z" fill="#6c70b8"/>
<path d="M478.74,722.99 A22.6,22.6 0 0 1 472.51,691.64 L479.91,696.59 A13.7,13.7 0 0 0 483.69,715.59Z" fill="#8fc54a"/>
<path d="M472.51,691.64 A22.6,22.6 0 0 1 491.30,681.60 L491.30,690.50 A13.7,13.7 0 0 0 479.91,696.59Z" fill="#ea2a2f"/>
<line x1="491.3" y1="704.2" x2="491.30" y2="680.60" stroke="#fff" stroke-width="2.6"/>
<line x1="491.3" y1="704.2" x2="478.19" y2="723.82" stroke="#fff" stroke-width="2.6"/>
<line x1="491.3" y1="704.2" x2="471.68" y2="691.09" stroke="#fff" stroke-width="2.6"/>
<line x1="592.2" y1="669" x2="592.2" y2="675" stroke="#777" stroke-width="0.8"/>
<path d="M592.10,681.60 A22.6,22.6 0 0 1 609.41,718.73 L602.59,713.01 A13.7,13.7 0 0 0 592.10,690.50Z" fill="#8fc54a"/>
<path d="M609.41,718.73 A22.6,22.6 0 1 1 592.10,681.60 L592.10,690.50 A13.7,13.7 0 1 0 602.59,713.01Z" fill="#ea2a2f"/>
<line x1="592.1" y1="704.2" x2="592.10" y2="680.60" stroke="#fff" stroke-width="2.6"/>
<line x1="592.1" y1="704.2" x2="610.18" y2="719.37" stroke="#fff" stroke-width="2.6"/>
</svg></body></html>
